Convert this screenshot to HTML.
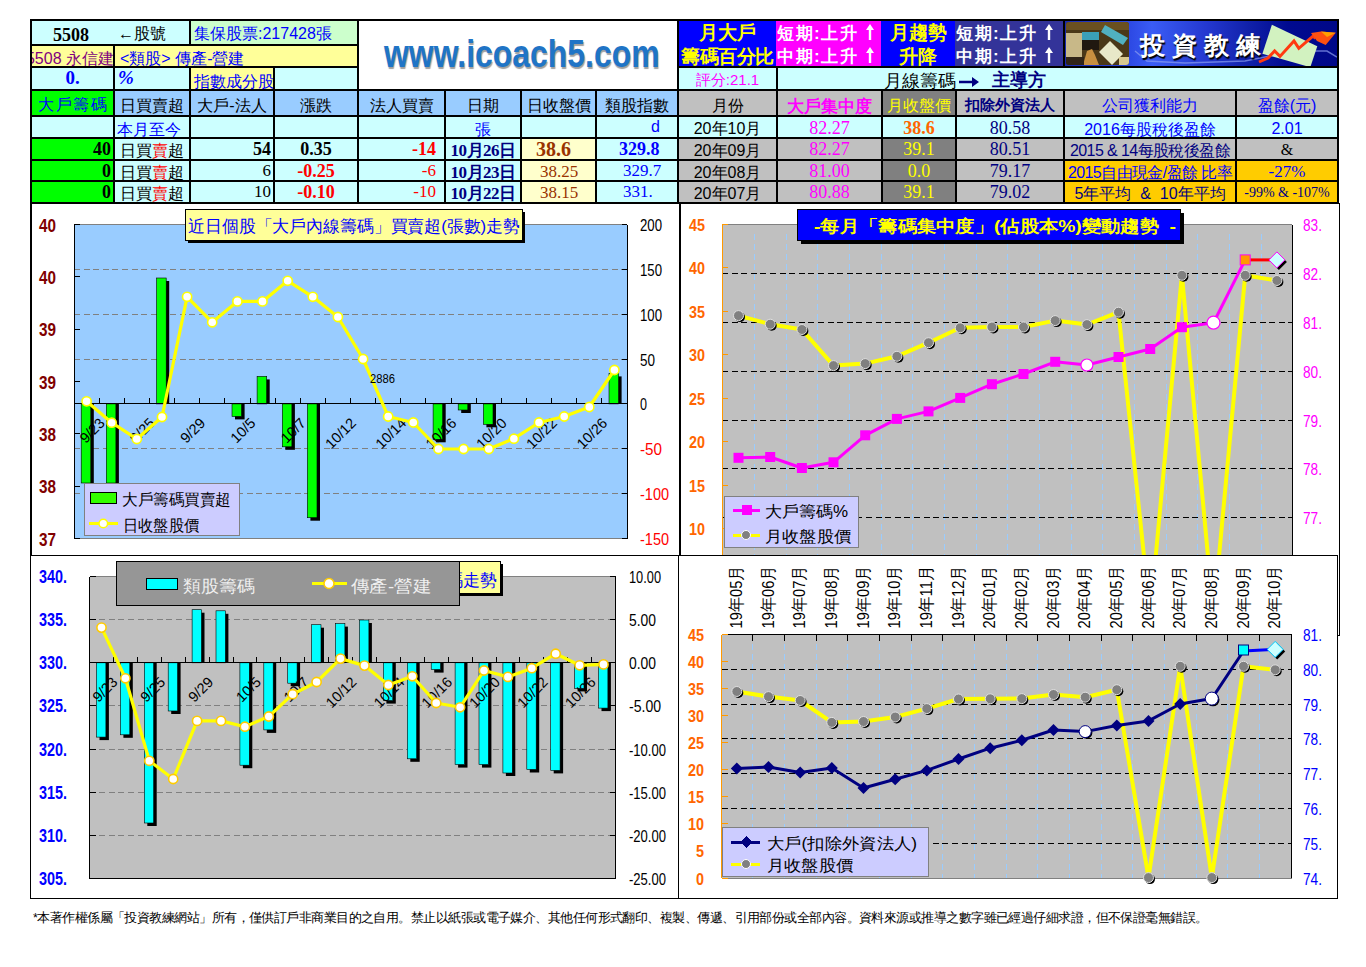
<!DOCTYPE html>
<html><head><meta charset="utf-8"><style>
html,body{margin:0;padding:0;background:#fff;width:1366px;height:967px;overflow:hidden;position:relative;font-family:"Liberation Sans",sans-serif}
</style></head><body>
<div style="position:absolute;left:32px;top:21px;width:157px;height:23px;background:#CCFFFF;"><span style="position:absolute;left:21px;top:3px;font:bold 19px 'Liberation Serif', serif;color:#000;transform:scaleX(0.95);transform-origin:0 0">5508</span><span style="position:absolute;left:86px;top:3px;font:16px 'Liberation Sans', sans-serif;color:#000">&larr;股號</span></div><div style="position:absolute;left:191px;top:21px;width:166px;height:23px;background:#CCFFCC;"><span style="position:absolute;left:3px;top:3px;font:16px 'Liberation Sans', sans-serif;color:#0000FF;white-space:nowrap">集保股票:217428張</span></div><div style="position:absolute;left:359px;top:21px;width:318px;height:68px;background:#FFFFFF;"></div><div style="position:absolute;left:679px;top:21px;width:97px;height:45px;background:#0000FF;overflow:hidden"><div style="position:absolute;left:-2px;right:-2px;top:0px;text-align:center;font:bold 18.5px/24px 'Liberation Sans', sans-serif;color:#FFFF00;white-space:nowrap">月大戶<br><span style="letter-spacing:-0.5px">籌碼百分比</span></div></div><div style="position:absolute;left:778px;top:21px;width:103px;height:45px;background:#FF00FF;overflow:hidden;margin-left:-2px;padding-left:2px"><div style="position:absolute;left:1px;top:1px;font:bold 17px/23px 'Liberation Sans', sans-serif;color:#FFFFFF;white-space:nowrap;letter-spacing:1.5px">短期:上升<svg width="8" height="16" style="vertical-align:-1px;margin-left:8px"><polygon points="4,0 8,6 5.2,6 5.2,16 2.8,16 2.8,6 0,6" fill="#fff"/></svg><br>中期:上升<svg width="8" height="16" style="vertical-align:-1px;margin-left:8px"><polygon points="4,0 8,6 5.2,6 5.2,16 2.8,16 2.8,6 0,6" fill="#fff"/></svg></div></div><div style="position:absolute;left:883px;top:21px;width:72px;height:45px;background:#0000FF;margin-left:-2px;padding-left:2px"><div style="position:absolute;left:0;right:0;top:0px;text-align:center;font:bold 18.5px/24px 'Liberation Sans', sans-serif;color:#FFFF00;white-space:nowrap">月趨勢<br>升降</div></div><div style="position:absolute;left:957px;top:21px;width:106px;height:45px;background:#333399;overflow:hidden;margin-left:-2px;padding-left:2px"><div style="position:absolute;left:1px;top:1px;font:bold 17px/23px 'Liberation Sans', sans-serif;color:#FFFFFF;white-space:nowrap;letter-spacing:1.5px">短期:上升<svg width="8" height="16" style="vertical-align:-1px;margin-left:8px"><polygon points="4,0 8,6 5.2,6 5.2,16 2.8,16 2.8,6 0,6" fill="#fff"/></svg><br>中期:上升<svg width="8" height="16" style="vertical-align:-1px;margin-left:8px"><polygon points="4,0 8,6 5.2,6 5.2,16 2.8,16 2.8,6 0,6" fill="#fff"/></svg></div></div><div style="position:absolute;left:1065px;top:21px;width:272px;height:45px;background:#1010A0;overflow:hidden"><div style="position:absolute;left:0;top:0;right:0;bottom:0;background:linear-gradient(90deg,#1a2ab0 0%,#2a45e0 22%,#3a5cf5 32%,#2438d0 52%,#1020a8 68%,#000a90 82%,#000888 100%)"></div><svg style="position:absolute;left:0;top:0" width="272" height="47"><polyline points="70,30 82,40 120,42 180,40 200,36 230,30 262,30 272,36" fill="none" stroke="#8a9cf0" stroke-width="1.5" opacity="0.7"/><defs><clipPath id="ph"><rect x="1" y="1" width="63" height="43" rx="3"/></clipPath></defs><g clip-path="url(#ph)"><rect x="1" y="1" width="63" height="43" fill="#4a3818"/><rect x="1" y="1" width="63" height="8" fill="#6a5020"/><rect x="1" y="12" width="16" height="24" fill="#c8b888"/><rect x="17" y="11" width="17" height="8" fill="#3aa0b8"/><rect x="17" y="19" width="17" height="10" fill="#201810"/><path d="M18,44 L22,30 L27,28 L30,34 L34,44 Z" fill="#c89040"/><polygon points="40,4 63,17 58,24 36,11" fill="#50b0c0"/><polygon points="45,20 58,33 47,44 34,31" fill="#e8e8c8"/><rect x="1" y="36" width="18" height="8" fill="#302418"/><rect x="54" y="36" width="10" height="8" fill="#d8c890"/></g><polygon points="206.9,3.7 252.3,25.3 245.3,46.2 197.4,32.7" fill="#d2f2c0"/><polyline points="194,41 203,37 209.6,30 215,35.4 229,20 233.8,27.3 248,15.2 250.6,17.2" fill="none" stroke="#ff3a10" stroke-width="3"/><polygon points="246,12 256,10.5 270.8,11.8 260.7,24 252,20" fill="#ff5010"/><polygon points="256,10.5 270.8,11.8 262,16" fill="#ffa000"/></svg><div style="position:absolute;left:75px;top:6px;font:bold 25px/36px 'Liberation Sans', sans-serif;color:#fff;letter-spacing:7px;white-space:nowrap;text-shadow:1px 2px 1px #000">投資教練</div></div><div style="position:absolute;left:32px;top:46px;width:81px;height:20px;background:#FFFF99;overflow:hidden"><span style="position:absolute;right:1px;top:3px;font:16px 'Liberation Sans', sans-serif;color:#800080;white-space:nowrap;margin-right:-2px">5508 永信建</span></div><div style="position:absolute;left:115px;top:46px;width:242px;height:20px;background:#FFFF99;"><span style="position:absolute;left:5px;top:3px;font:16px 'Liberation Sans', sans-serif;color:#0000FF;white-space:nowrap">&lt;類股&gt; 傳產-營建</span></div><div style="position:absolute;left:32px;top:68px;width:81px;height:21px;background:#CCFFFF;"><div style="position:absolute;left:0;right:0;top:-1px;text-align:center;font:bold 19px 'Liberation Serif', serif;color:#0000FF">0.</div></div><div style="position:absolute;left:115px;top:68px;width:74px;height:21px;background:#CCFFFF;"><span style="position:absolute;left:3px;top:-1px;font:italic bold 19px 'Liberation Serif', serif;color:#0000FF">%</span></div><div style="position:absolute;left:191px;top:68px;width:82px;height:21px;background:#FFFF99;"><span style="position:absolute;left:3px;top:4px;font:16px 'Liberation Sans', sans-serif;color:#0000FF;white-space:nowrap">指數成分股</span></div><div style="position:absolute;left:275px;top:68px;width:82px;height:21px;background:#CCFFFF;"></div><div style="position:absolute;left:679px;top:68px;width:97px;height:21px;background:#CCFFFF;"><div style="position:absolute;left:0;right:0;top:3px;text-align:center;font:15px 'Liberation Sans', sans-serif;color:#FF00FF;white-space:nowrap">評分:21.1</div></div><div style="position:absolute;left:778px;top:68px;width:559px;height:21px;background:#CCFFFF;"><span style="position:absolute;left:106px;top:1px;font:17.5px 'Liberation Sans', sans-serif;color:#000;white-space:nowrap">月線籌碼</span><span style="position:absolute;left:181px;top:5px"><svg width="20" height="10"><polygon points="20,5 13,0 13,3.8 0,3.8 0,6.2 13,6.2 13,10" fill="#000080"/></svg></span><span style="position:absolute;left:214px;top:0px;font:bold 18px 'Liberation Sans', sans-serif;color:#000080;white-space:nowrap">主導方</span></div><div style="position:absolute;left:32px;top:91px;width:81px;height:24px;background:#00FF00;"><div style="position:absolute;left:0;right:0;text-align:center;top:4px;font:16px 'Liberation Sans', sans-serif;color:#0000FF;white-space:nowrap;letter-spacing:1.5px;text-indent:1.5px">大戶籌碼</div></div><div style="position:absolute;left:115px;top:91px;width:74px;height:24px;background:#99CCFF;"><div style="position:absolute;left:0;right:0;text-align:center;top:5px;font:16px 'Liberation Sans', sans-serif;color:#000;white-space:nowrap;">日買賣超</div></div><div style="position:absolute;left:191px;top:91px;width:82px;height:24px;background:#99CCFF;"><div style="position:absolute;left:0;right:0;text-align:center;top:5px;font:16px 'Liberation Sans', sans-serif;color:#000;white-space:nowrap;">大戶-法人</div></div><div style="position:absolute;left:275px;top:91px;width:82px;height:24px;background:#99CCFF;"><div style="position:absolute;left:0;right:0;text-align:center;top:5px;font:16px 'Liberation Sans', sans-serif;color:#000;white-space:nowrap;">漲跌</div></div><div style="position:absolute;left:359px;top:91px;width:85px;height:24px;background:#99CCFF;"><div style="position:absolute;left:0;right:0;text-align:center;top:5px;font:16px 'Liberation Sans', sans-serif;color:#000;white-space:nowrap;">法人買賣</div></div><div style="position:absolute;left:446px;top:91px;width:74px;height:24px;background:#99CCFF;"><div style="position:absolute;left:0;right:0;text-align:center;top:5px;font:16px 'Liberation Sans', sans-serif;color:#000;white-space:nowrap;">日期</div></div><div style="position:absolute;left:522px;top:91px;width:73px;height:24px;background:#99CCFF;"><div style="position:absolute;left:0;right:0;text-align:center;top:5px;font:16px 'Liberation Sans', sans-serif;color:#000;white-space:nowrap;">日收盤價</div></div><div style="position:absolute;left:597px;top:91px;width:80px;height:24px;background:#99CCFF;"><div style="position:absolute;left:0;right:0;text-align:center;top:5px;font:16px 'Liberation Sans', sans-serif;color:#000;white-space:nowrap;">類股指數</div></div><div style="position:absolute;left:679px;top:91px;width:97px;height:24px;background:#C0C0C0;"><div style="position:absolute;left:0;right:0;text-align:center;top:5px;font:16px 'Liberation Sans', sans-serif;color:#000;white-space:nowrap;">月份</div></div><div style="position:absolute;left:778px;top:91px;width:103px;height:24px;background:#C0C0C0;"><div style="position:absolute;left:0;right:0;text-align:center;top:4px;font:bold 17px 'Liberation Sans', sans-serif;color:#FF00FF;white-space:nowrap;">大戶集中度</div></div><div style="position:absolute;left:883px;top:91px;width:72px;height:24px;background:#808080;"><div style="position:absolute;left:0;right:0;text-align:center;top:5px;font:16px 'Liberation Sans', sans-serif;color:#FFFF00;white-space:nowrap;">月收盤價</div></div><div style="position:absolute;left:957px;top:91px;width:106px;height:24px;background:#C0C0C0;"><div style="position:absolute;left:0;right:0;text-align:center;top:5px;font:bold 15px 'Liberation Sans', sans-serif;color:#000080;white-space:nowrap;">扣除外資法人</div></div><div style="position:absolute;left:1065px;top:91px;width:170px;height:24px;background:#C0C0C0;"><div style="position:absolute;left:0;right:0;text-align:center;top:5px;font:16px 'Liberation Sans', sans-serif;color:#0000FF;white-space:nowrap;">公司獲利能力</div></div><div style="position:absolute;left:1237px;top:91px;width:100px;height:24px;background:#C0C0C0;"><div style="position:absolute;left:0;right:0;text-align:center;top:5px;font:16px 'Liberation Sans', sans-serif;color:#0000FF;white-space:nowrap;">盈餘(元)</div></div><div style="position:absolute;left:32px;top:117px;width:81px;height:20px;background:#CCFFFF;"></div><div style="position:absolute;left:115px;top:117px;width:74px;height:20px;background:#CCFFFF;"><div style="position:absolute;left:2px;top:3px;font:16px 'Liberation Sans', sans-serif;color:#0000FF;white-space:nowrap;">本月至今</div></div><div style="position:absolute;left:191px;top:117px;width:82px;height:20px;background:#CCFFFF;"></div><div style="position:absolute;left:275px;top:117px;width:82px;height:20px;background:#CCFFFF;"></div><div style="position:absolute;left:359px;top:117px;width:85px;height:20px;background:#CCFFFF;"></div><div style="position:absolute;left:446px;top:117px;width:74px;height:20px;background:#CCFFFF;"><div style="position:absolute;left:0;right:0;text-align:center;top:3px;font:16px 'Liberation Sans', sans-serif;color:#0000FF;white-space:nowrap;">張</div></div><div style="position:absolute;left:522px;top:117px;width:73px;height:20px;background:#CCFFFF;"></div><div style="position:absolute;left:597px;top:117px;width:80px;height:20px;background:#CCFFFF;"><div style="position:absolute;right:17px;top:1px;font:16px 'Liberation Sans', sans-serif;color:#0000FF;white-space:nowrap;">d</div></div><div style="position:absolute;left:679px;top:117px;width:97px;height:20px;background:#CCFFFF;"><div style="position:absolute;left:0;right:0;text-align:center;top:2px;font:16px 'Liberation Sans', sans-serif;color:#000;white-space:nowrap;">20年10月</div></div><div style="position:absolute;left:778px;top:117px;width:103px;height:20px;background:#CCFFFF;"><div style="position:absolute;left:0;right:0;text-align:center;top:1px;font:18px 'Liberation Serif', serif;color:#FF00FF;white-space:nowrap;">82.27</div></div><div style="position:absolute;left:883px;top:117px;width:72px;height:20px;background:#CCFFFF;"><div style="position:absolute;left:0;right:0;text-align:center;top:1px;font:bold 18px 'Liberation Serif', serif;color:#FF6600;white-space:nowrap;">38.6</div></div><div style="position:absolute;left:957px;top:117px;width:106px;height:20px;background:#CCFFFF;"><div style="position:absolute;left:0;right:0;text-align:center;top:1px;font:18px 'Liberation Serif', serif;color:#000080;white-space:nowrap;">80.58</div></div><div style="position:absolute;left:1065px;top:117px;width:170px;height:20px;background:#CCFFFF;"><div style="position:absolute;left:0;right:0;text-align:center;top:3px;font:16px 'Liberation Sans', sans-serif;color:#0000FF;white-space:nowrap;">2016每股稅後盈餘</div></div><div style="position:absolute;left:1237px;top:117px;width:100px;height:20px;background:#CCFFFF;"><div style="position:absolute;left:0;right:0;text-align:center;top:3px;font:16px 'Liberation Sans', sans-serif;color:#0000FF;white-space:nowrap;">2.01</div></div><div style="position:absolute;left:32px;top:139px;width:81px;height:20px;background:#00FF00;"><div style="position:absolute;right:2px;top:0px;font:bold 18px 'Liberation Serif', serif;color:#000;white-space:nowrap;">40</div></div><div style="position:absolute;left:115px;top:139px;width:74px;height:20px;background:#CCFFFF;"><div style="position:absolute;left:0;right:0;text-align:center;top:2px;font:16px 'Liberation Sans', sans-serif;color:#000;white-space:nowrap;">日買<span style="color:#FF0000">賣</span>超</div></div><div style="position:absolute;left:191px;top:139px;width:82px;height:20px;background:#CCFFFF;"><div style="position:absolute;right:2px;top:0px;font:bold 18px 'Liberation Serif', serif;color:#000;white-space:nowrap;">54</div></div><div style="position:absolute;left:275px;top:139px;width:82px;height:20px;background:#CCFFFF;"><div style="position:absolute;left:0;right:0;text-align:center;top:0px;font:bold 18px 'Liberation Serif', serif;color:#000;white-space:nowrap;">0.35</div></div><div style="position:absolute;left:359px;top:139px;width:85px;height:20px;background:#CCFFFF;"><div style="position:absolute;right:8px;top:0px;font:bold 18px 'Liberation Serif', serif;color:#FF0000;white-space:nowrap;">-14</div></div><div style="position:absolute;left:446px;top:139px;width:74px;height:20px;background:#CCFFFF;"><div style="position:absolute;left:0;right:0;text-align:center;top:0px;font:bold 17px 'Liberation Serif', serif;color:#000080;white-space:nowrap;letter-spacing:-0.5px">10月26日</div></div><div style="position:absolute;left:522px;top:139px;width:73px;height:20px;background:#FFFFCC;"><div style="position:absolute;left:14px;top:-1px;font:bold 20px 'Liberation Serif', serif;color:#993300;white-space:nowrap;">38.6</div></div><div style="position:absolute;left:597px;top:139px;width:80px;height:20px;background:#CCFFFF;"><div style="position:absolute;left:22px;top:0px;font:bold 18px 'Liberation Serif', serif;color:#0000FF;white-space:nowrap;">329.8</div></div><div style="position:absolute;left:679px;top:139px;width:97px;height:20px;background:#C0C0C0;"><div style="position:absolute;left:0;right:0;text-align:center;top:2px;font:16px 'Liberation Sans', sans-serif;color:#000;white-space:nowrap;">20年09月</div></div><div style="position:absolute;left:778px;top:139px;width:103px;height:20px;background:#C0C0C0;"><div style="position:absolute;left:0;right:0;text-align:center;top:0px;font:18px 'Liberation Serif', serif;color:#FF00FF;white-space:nowrap;">82.27</div></div><div style="position:absolute;left:883px;top:139px;width:72px;height:20px;background:#808080;"><div style="position:absolute;left:0;right:0;text-align:center;top:0px;font:18px 'Liberation Serif', serif;color:#FFFF00;white-space:nowrap;">39.1</div></div><div style="position:absolute;left:957px;top:139px;width:106px;height:20px;background:#C0C0C0;"><div style="position:absolute;left:0;right:0;text-align:center;top:0px;font:18px 'Liberation Serif', serif;color:#000080;white-space:nowrap;">80.51</div></div><div style="position:absolute;left:32px;top:161px;width:81px;height:19px;background:#00FF00;"><div style="position:absolute;right:2px;top:0px;font:bold 18px 'Liberation Serif', serif;color:#000;white-space:nowrap;">0</div></div><div style="position:absolute;left:115px;top:161px;width:74px;height:19px;background:#CCFFFF;"><div style="position:absolute;left:0;right:0;text-align:center;top:2px;font:16px 'Liberation Sans', sans-serif;color:#000;white-space:nowrap;">日買<span style="color:#FF0000">賣</span>超</div></div><div style="position:absolute;left:191px;top:161px;width:82px;height:19px;background:#CCFFFF;"><div style="position:absolute;right:2px;top:0px;font:17px 'Liberation Serif', serif;color:#000;white-space:nowrap;">6</div></div><div style="position:absolute;left:275px;top:161px;width:82px;height:19px;background:#CCFFFF;"><div style="position:absolute;left:0;right:0;text-align:center;top:0px;font:bold 18px 'Liberation Serif', serif;color:#FF0000;white-space:nowrap;">-0.25</div></div><div style="position:absolute;left:359px;top:161px;width:85px;height:19px;background:#CCFFFF;"><div style="position:absolute;right:8px;top:0px;font:17px 'Liberation Serif', serif;color:#FF0000;white-space:nowrap;">-6</div></div><div style="position:absolute;left:446px;top:161px;width:74px;height:19px;background:#CCFFFF;"><div style="position:absolute;left:0;right:0;text-align:center;top:0px;font:bold 17px 'Liberation Serif', serif;color:#000080;white-space:nowrap;letter-spacing:-0.5px">10月23日</div></div><div style="position:absolute;left:522px;top:161px;width:73px;height:19px;background:#FFFFCC;"><div style="position:absolute;left:18px;top:1px;font:17px 'Liberation Serif', serif;color:#993300;white-space:nowrap;">38.25</div></div><div style="position:absolute;left:597px;top:161px;width:80px;height:19px;background:#CCFFFF;"><div style="position:absolute;left:26px;top:0px;font:17px 'Liberation Serif', serif;color:#0000FF;white-space:nowrap;">329.7</div></div><div style="position:absolute;left:679px;top:161px;width:97px;height:19px;background:#C0C0C0;"><div style="position:absolute;left:0;right:0;text-align:center;top:2px;font:16px 'Liberation Sans', sans-serif;color:#000;white-space:nowrap;">20年08月</div></div><div style="position:absolute;left:778px;top:161px;width:103px;height:19px;background:#C0C0C0;"><div style="position:absolute;left:0;right:0;text-align:center;top:0px;font:18px 'Liberation Serif', serif;color:#FF00FF;white-space:nowrap;">81.00</div></div><div style="position:absolute;left:883px;top:161px;width:72px;height:19px;background:#808080;"><div style="position:absolute;left:0;right:0;text-align:center;top:0px;font:18px 'Liberation Serif', serif;color:#FFFF00;white-space:nowrap;">0.0</div></div><div style="position:absolute;left:957px;top:161px;width:106px;height:19px;background:#C0C0C0;"><div style="position:absolute;left:0;right:0;text-align:center;top:0px;font:18px 'Liberation Serif', serif;color:#000080;white-space:nowrap;">79.17</div></div><div style="position:absolute;left:32px;top:182px;width:81px;height:20px;background:#00FF00;"><div style="position:absolute;right:2px;top:0px;font:bold 18px 'Liberation Serif', serif;color:#000;white-space:nowrap;">0</div></div><div style="position:absolute;left:115px;top:182px;width:74px;height:20px;background:#CCFFFF;"><div style="position:absolute;left:0;right:0;text-align:center;top:2px;font:16px 'Liberation Sans', sans-serif;color:#000;white-space:nowrap;">日買<span style="color:#FF0000">賣</span>超</div></div><div style="position:absolute;left:191px;top:182px;width:82px;height:20px;background:#CCFFFF;"><div style="position:absolute;right:2px;top:0px;font:17px 'Liberation Serif', serif;color:#000;white-space:nowrap;">10</div></div><div style="position:absolute;left:275px;top:182px;width:82px;height:20px;background:#CCFFFF;"><div style="position:absolute;left:0;right:0;text-align:center;top:0px;font:bold 18px 'Liberation Serif', serif;color:#FF0000;white-space:nowrap;">-0.10</div></div><div style="position:absolute;left:359px;top:182px;width:85px;height:20px;background:#CCFFFF;"><div style="position:absolute;right:8px;top:0px;font:17px 'Liberation Serif', serif;color:#FF0000;white-space:nowrap;">-10</div></div><div style="position:absolute;left:446px;top:182px;width:74px;height:20px;background:#CCFFFF;"><div style="position:absolute;left:0;right:0;text-align:center;top:0px;font:bold 17px 'Liberation Serif', serif;color:#000080;white-space:nowrap;letter-spacing:-0.5px">10月22日</div></div><div style="position:absolute;left:522px;top:182px;width:73px;height:20px;background:#FFFFCC;"><div style="position:absolute;left:18px;top:1px;font:17px 'Liberation Serif', serif;color:#993300;white-space:nowrap;">38.15</div></div><div style="position:absolute;left:597px;top:182px;width:80px;height:20px;background:#CCFFFF;"><div style="position:absolute;left:26px;top:0px;font:17px 'Liberation Serif', serif;color:#0000FF;white-space:nowrap;">331.</div></div><div style="position:absolute;left:679px;top:182px;width:97px;height:20px;background:#C0C0C0;"><div style="position:absolute;left:0;right:0;text-align:center;top:2px;font:16px 'Liberation Sans', sans-serif;color:#000;white-space:nowrap;">20年07月</div></div><div style="position:absolute;left:778px;top:182px;width:103px;height:20px;background:#C0C0C0;"><div style="position:absolute;left:0;right:0;text-align:center;top:0px;font:18px 'Liberation Serif', serif;color:#FF00FF;white-space:nowrap;">80.88</div></div><div style="position:absolute;left:883px;top:182px;width:72px;height:20px;background:#808080;"><div style="position:absolute;left:0;right:0;text-align:center;top:0px;font:18px 'Liberation Serif', serif;color:#FFFF00;white-space:nowrap;">39.1</div></div><div style="position:absolute;left:957px;top:182px;width:106px;height:20px;background:#C0C0C0;"><div style="position:absolute;left:0;right:0;text-align:center;top:0px;font:18px 'Liberation Serif', serif;color:#000080;white-space:nowrap;">79.02</div></div><div style="position:absolute;left:1065px;top:139px;width:170px;height:20px;background:#C0C0C0;"><div style="position:absolute;left:0;right:0;text-align:center;top:2px;font:16px 'Liberation Sans', sans-serif;color:#000080;white-space:nowrap;letter-spacing:-0.6px">2015 &amp; 14每股稅後盈餘</div></div><div style="position:absolute;left:1237px;top:139px;width:100px;height:20px;background:#C0C0C0;"><div style="position:absolute;left:0;right:0;text-align:center;top:2px;font:16px 'Liberation Serif', serif;color:#000;white-space:nowrap;">&amp;</div></div><div style="position:absolute;left:1065px;top:161px;width:170px;height:19px;background:#FFCC00;"><div style="position:absolute;left:0;right:0;text-align:center;top:2px;font:16px 'Liberation Sans', sans-serif;color:#0000FF;white-space:nowrap;letter-spacing:-0.6px">2015自由現金/盈餘 比率</div></div><div style="position:absolute;left:1237px;top:161px;width:100px;height:19px;background:#FFCC00;"><div style="position:absolute;left:0;right:0;text-align:center;top:1px;font:17px 'Liberation Serif', serif;color:#0000FF;white-space:nowrap;">-27%</div></div><div style="position:absolute;left:1065px;top:182px;width:170px;height:20px;background:#FFCC00;"><div style="position:absolute;left:0;right:0;text-align:center;top:2px;font:16px 'Liberation Sans', sans-serif;color:#000080;white-space:nowrap;">5年平均 &nbsp;&amp; &nbsp;10年平均</div></div><div style="position:absolute;left:1237px;top:182px;width:100px;height:20px;background:#FFCC00;"><div style="position:absolute;left:0;right:0;text-align:center;top:3px;font:14px 'Liberation Serif', serif;color:#000080;white-space:nowrap;">-99% &amp; -107%</div></div><div style="position:absolute;left:273px;top:115px;width:86px;height:2px;background:#000"></div><div style="position:absolute;left:520px;top:115px;width:77px;height:2px;background:#000"></div><div style="position:absolute;left:30px;top:159px;width:2px;height:23px;background:#000"></div><div style="position:absolute;left:881px;top:202px;width:76px;height:2px;background:#000"></div><div style="position:absolute;left:189px;top:115px;width:2px;height:24px;background:#000"></div><div style="position:absolute;left:776px;top:89px;width:563px;height:2px;background:#000"></div><div style="position:absolute;left:1337px;top:137px;width:2px;height:24px;background:#000"></div><div style="position:absolute;left:357px;top:44px;width:2px;height:24px;background:#000"></div><div style="position:absolute;left:189px;top:66px;width:2px;height:25px;background:#000"></div><div style="position:absolute;left:1337px;top:89px;width:2px;height:28px;background:#000"></div><div style="position:absolute;left:881px;top:159px;width:76px;height:2px;background:#000"></div><div style="position:absolute;left:677px;top:66px;width:101px;height:2px;background:#000"></div><div style="position:absolute;left:113px;top:159px;width:78px;height:2px;background:#000"></div><div style="position:absolute;left:1235px;top:202px;width:104px;height:2px;background:#000"></div><div style="position:absolute;left:113px;top:180px;width:2px;height:24px;background:#000"></div><div style="position:absolute;left:955px;top:137px;width:2px;height:24px;background:#000"></div><div style="position:absolute;left:30px;top:44px;width:2px;height:24px;background:#000"></div><div style="position:absolute;left:955px;top:89px;width:2px;height:28px;background:#000"></div><div style="position:absolute;left:776px;top:89px;width:107px;height:2px;background:#000"></div><div style="position:absolute;left:189px;top:137px;width:2px;height:24px;background:#000"></div><div style="position:absolute;left:357px;top:19px;width:322px;height:2px;background:#000"></div><div style="position:absolute;left:189px;top:19px;width:2px;height:27px;background:#000"></div><div style="position:absolute;left:357px;top:159px;width:89px;height:2px;background:#000"></div><div style="position:absolute;left:30px;top:159px;width:85px;height:2px;background:#000"></div><div style="position:absolute;left:677px;top:19px;width:2px;height:49px;background:#000"></div><div style="position:absolute;left:776px;top:180px;width:107px;height:2px;background:#000"></div><div style="position:absolute;left:273px;top:202px;width:86px;height:2px;background:#000"></div><div style="position:absolute;left:273px;top:115px;width:2px;height:24px;background:#000"></div><div style="position:absolute;left:881px;top:115px;width:76px;height:2px;background:#000"></div><div style="position:absolute;left:520px;top:202px;width:77px;height:2px;background:#000"></div><div style="position:absolute;left:1063px;top:19px;width:276px;height:2px;background:#000"></div><div style="position:absolute;left:881px;top:180px;width:2px;height:24px;background:#000"></div><div style="position:absolute;left:955px;top:202px;width:110px;height:2px;background:#000"></div><div style="position:absolute;left:520px;top:115px;width:2px;height:24px;background:#000"></div><div style="position:absolute;left:357px;top:180px;width:89px;height:2px;background:#000"></div><div style="position:absolute;left:1337px;top:159px;width:2px;height:23px;background:#000"></div><div style="position:absolute;left:776px;top:66px;width:563px;height:2px;background:#000"></div><div style="position:absolute;left:776px;top:115px;width:2px;height:24px;background:#000"></div><div style="position:absolute;left:189px;top:89px;width:86px;height:2px;background:#000"></div><div style="position:absolute;left:677px;top:89px;width:101px;height:2px;background:#000"></div><div style="position:absolute;left:776px;top:66px;width:2px;height:25px;background:#000"></div><div style="position:absolute;left:1063px;top:202px;width:174px;height:2px;background:#000"></div><div style="position:absolute;left:444px;top:159px;width:78px;height:2px;background:#000"></div><div style="position:absolute;left:1235px;top:115px;width:104px;height:2px;background:#000"></div><div style="position:absolute;left:955px;top:159px;width:2px;height:23px;background:#000"></div><div style="position:absolute;left:444px;top:180px;width:2px;height:24px;background:#000"></div><div style="position:absolute;left:677px;top:180px;width:101px;height:2px;background:#000"></div><div style="position:absolute;left:189px;top:159px;width:2px;height:23px;background:#000"></div><div style="position:absolute;left:30px;top:115px;width:85px;height:2px;background:#000"></div><div style="position:absolute;left:273px;top:180px;width:2px;height:24px;background:#000"></div><div style="position:absolute;left:1063px;top:19px;width:2px;height:49px;background:#000"></div><div style="position:absolute;left:189px;top:137px;width:86px;height:2px;background:#000"></div><div style="position:absolute;left:595px;top:115px;width:2px;height:24px;background:#000"></div><div style="position:absolute;left:113px;top:115px;width:2px;height:24px;background:#000"></div><div style="position:absolute;left:881px;top:19px;width:76px;height:2px;background:#000"></div><div style="position:absolute;left:113px;top:66px;width:2px;height:25px;background:#000"></div><div style="position:absolute;left:955px;top:115px;width:110px;height:2px;background:#000"></div><div style="position:absolute;left:595px;top:89px;width:84px;height:2px;background:#000"></div><div style="position:absolute;left:30px;top:44px;width:85px;height:2px;background:#000"></div><div style="position:absolute;left:444px;top:115px;width:78px;height:2px;background:#000"></div><div style="position:absolute;left:113px;top:202px;width:78px;height:2px;background:#000"></div><div style="position:absolute;left:1235px;top:115px;width:2px;height:24px;background:#000"></div><div style="position:absolute;left:189px;top:66px;width:86px;height:2px;background:#000"></div><div style="position:absolute;left:1063px;top:115px;width:174px;height:2px;background:#000"></div><div style="position:absolute;left:881px;top:115px;width:2px;height:24px;background:#000"></div><div style="position:absolute;left:357px;top:180px;width:2px;height:24px;background:#000"></div><div style="position:absolute;left:595px;top:180px;width:2px;height:24px;background:#000"></div><div style="position:absolute;left:357px;top:202px;width:89px;height:2px;background:#000"></div><div style="position:absolute;left:189px;top:44px;width:170px;height:2px;background:#000"></div><div style="position:absolute;left:30px;top:202px;width:85px;height:2px;background:#000"></div><div style="position:absolute;left:776px;top:159px;width:107px;height:2px;background:#000"></div><div style="position:absolute;left:595px;top:137px;width:84px;height:2px;background:#000"></div><div style="position:absolute;left:677px;top:180px;width:2px;height:24px;background:#000"></div><div style="position:absolute;left:357px;top:89px;width:322px;height:2px;background:#000"></div><div style="position:absolute;left:189px;top:89px;width:2px;height:28px;background:#000"></div><div style="position:absolute;left:444px;top:115px;width:2px;height:24px;background:#000"></div><div style="position:absolute;left:30px;top:180px;width:2px;height:24px;background:#000"></div><div style="position:absolute;left:1235px;top:137px;width:104px;height:2px;background:#000"></div><div style="position:absolute;left:273px;top:89px;width:86px;height:2px;background:#000"></div><div style="position:absolute;left:520px;top:89px;width:77px;height:2px;background:#000"></div><div style="position:absolute;left:881px;top:137px;width:2px;height:24px;background:#000"></div><div style="position:absolute;left:1235px;top:180px;width:2px;height:24px;background:#000"></div><div style="position:absolute;left:881px;top:89px;width:2px;height:28px;background:#000"></div><div style="position:absolute;left:189px;top:19px;width:170px;height:2px;background:#000"></div><div style="position:absolute;left:955px;top:19px;width:110px;height:2px;background:#000"></div><div style="position:absolute;left:113px;top:44px;width:246px;height:2px;background:#000"></div><div style="position:absolute;left:273px;top:66px;width:2px;height:25px;background:#000"></div><div style="position:absolute;left:444px;top:202px;width:78px;height:2px;background:#000"></div><div style="position:absolute;left:113px;top:115px;width:78px;height:2px;background:#000"></div><div style="position:absolute;left:677px;top:159px;width:101px;height:2px;background:#000"></div><div style="position:absolute;left:273px;top:137px;width:86px;height:2px;background:#000"></div><div style="position:absolute;left:520px;top:137px;width:77px;height:2px;background:#000"></div><div style="position:absolute;left:273px;top:137px;width:2px;height:24px;background:#000"></div><div style="position:absolute;left:357px;top:115px;width:89px;height:2px;background:#000"></div><div style="position:absolute;left:189px;top:180px;width:86px;height:2px;background:#000"></div><div style="position:absolute;left:273px;top:89px;width:2px;height:28px;background:#000"></div><div style="position:absolute;left:1063px;top:180px;width:2px;height:24px;background:#000"></div><div style="position:absolute;left:520px;top:137px;width:2px;height:24px;background:#000"></div><div style="position:absolute;left:520px;top:89px;width:2px;height:28px;background:#000"></div><div style="position:absolute;left:776px;top:137px;width:2px;height:24px;background:#000"></div><div style="position:absolute;left:357px;top:115px;width:2px;height:24px;background:#000"></div><div style="position:absolute;left:881px;top:159px;width:2px;height:23px;background:#000"></div><div style="position:absolute;left:776px;top:89px;width:2px;height:28px;background:#000"></div><div style="position:absolute;left:881px;top:89px;width:76px;height:2px;background:#000"></div><div style="position:absolute;left:357px;top:66px;width:2px;height:25px;background:#000"></div><div style="position:absolute;left:273px;top:66px;width:86px;height:2px;background:#000"></div><div style="position:absolute;left:1337px;top:180px;width:2px;height:24px;background:#000"></div><div style="position:absolute;left:1063px;top:66px;width:276px;height:2px;background:#000"></div><div style="position:absolute;left:677px;top:115px;width:2px;height:24px;background:#000"></div><div style="position:absolute;left:595px;top:159px;width:84px;height:2px;background:#000"></div><div style="position:absolute;left:1337px;top:19px;width:2px;height:49px;background:#000"></div><div style="position:absolute;left:677px;top:66px;width:2px;height:25px;background:#000"></div><div style="position:absolute;left:30px;top:115px;width:2px;height:24px;background:#000"></div><div style="position:absolute;left:30px;top:66px;width:2px;height:25px;background:#000"></div><div style="position:absolute;left:776px;top:19px;width:107px;height:2px;background:#000"></div><div style="position:absolute;left:1235px;top:89px;width:104px;height:2px;background:#000"></div><div style="position:absolute;left:776px;top:202px;width:107px;height:2px;background:#000"></div><div style="position:absolute;left:595px;top:137px;width:2px;height:24px;background:#000"></div><div style="position:absolute;left:595px;top:180px;width:84px;height:2px;background:#000"></div><div style="position:absolute;left:113px;top:137px;width:2px;height:24px;background:#000"></div><div style="position:absolute;left:273px;top:159px;width:2px;height:23px;background:#000"></div><div style="position:absolute;left:595px;top:89px;width:2px;height:28px;background:#000"></div><div style="position:absolute;left:881px;top:137px;width:76px;height:2px;background:#000"></div><div style="position:absolute;left:357px;top:19px;width:2px;height:27px;background:#000"></div><div style="position:absolute;left:113px;top:89px;width:2px;height:28px;background:#000"></div><div style="position:absolute;left:30px;top:89px;width:85px;height:2px;background:#000"></div><div style="position:absolute;left:520px;top:159px;width:2px;height:23px;background:#000"></div><div style="position:absolute;left:677px;top:137px;width:2px;height:24px;background:#000"></div><div style="position:absolute;left:1235px;top:180px;width:104px;height:2px;background:#000"></div><div style="position:absolute;left:776px;top:159px;width:2px;height:23px;background:#000"></div><div style="position:absolute;left:30px;top:19px;width:2px;height:27px;background:#000"></div><div style="position:absolute;left:1235px;top:137px;width:2px;height:24px;background:#000"></div><div style="position:absolute;left:1235px;top:89px;width:2px;height:28px;background:#000"></div><div style="position:absolute;left:677px;top:19px;width:101px;height:2px;background:#000"></div><div style="position:absolute;left:881px;top:66px;width:76px;height:2px;background:#000"></div><div style="position:absolute;left:1063px;top:115px;width:2px;height:24px;background:#000"></div><div style="position:absolute;left:955px;top:89px;width:110px;height:2px;background:#000"></div><div style="position:absolute;left:677px;top:202px;width:101px;height:2px;background:#000"></div><div style="position:absolute;left:30px;top:19px;width:161px;height:2px;background:#000"></div><div style="position:absolute;left:444px;top:89px;width:78px;height:2px;background:#000"></div><div style="position:absolute;left:30px;top:137px;width:85px;height:2px;background:#000"></div><div style="position:absolute;left:113px;top:66px;width:78px;height:2px;background:#000"></div><div style="position:absolute;left:273px;top:180px;width:86px;height:2px;background:#000"></div><div style="position:absolute;left:520px;top:180px;width:77px;height:2px;background:#000"></div><div style="position:absolute;left:189px;top:159px;width:86px;height:2px;background:#000"></div><div style="position:absolute;left:1063px;top:89px;width:174px;height:2px;background:#000"></div><div style="position:absolute;left:1337px;top:115px;width:2px;height:24px;background:#000"></div><div style="position:absolute;left:113px;top:159px;width:2px;height:23px;background:#000"></div><div style="position:absolute;left:595px;top:159px;width:2px;height:23px;background:#000"></div><div style="position:absolute;left:444px;top:137px;width:2px;height:24px;background:#000"></div><div style="position:absolute;left:776px;top:115px;width:107px;height:2px;background:#000"></div><div style="position:absolute;left:444px;top:89px;width:2px;height:28px;background:#000"></div><div style="position:absolute;left:677px;top:159px;width:2px;height:23px;background:#000"></div><div style="position:absolute;left:357px;top:19px;width:2px;height:72px;background:#000"></div><div style="position:absolute;left:1063px;top:137px;width:2px;height:24px;background:#000"></div><div style="position:absolute;left:955px;top:137px;width:110px;height:2px;background:#000"></div><div style="position:absolute;left:1063px;top:180px;width:174px;height:2px;background:#000"></div><div style="position:absolute;left:30px;top:66px;width:85px;height:2px;background:#000"></div><div style="position:absolute;left:444px;top:137px;width:78px;height:2px;background:#000"></div><div style="position:absolute;left:955px;top:115px;width:2px;height:24px;background:#000"></div><div style="position:absolute;left:677px;top:19px;width:2px;height:72px;background:#000"></div><div style="position:absolute;left:1235px;top:159px;width:2px;height:23px;background:#000"></div><div style="position:absolute;left:1063px;top:137px;width:174px;height:2px;background:#000"></div><div style="position:absolute;left:595px;top:202px;width:84px;height:2px;background:#000"></div><div style="position:absolute;left:113px;top:44px;width:2px;height:24px;background:#000"></div><div style="position:absolute;left:189px;top:115px;width:86px;height:2px;background:#000"></div><div style="position:absolute;left:677px;top:115px;width:101px;height:2px;background:#000"></div><div style="position:absolute;left:955px;top:66px;width:110px;height:2px;background:#000"></div><div style="position:absolute;left:113px;top:89px;width:78px;height:2px;background:#000"></div><div style="position:absolute;left:881px;top:180px;width:76px;height:2px;background:#000"></div><div style="position:absolute;left:444px;top:159px;width:2px;height:23px;background:#000"></div><div style="position:absolute;left:1235px;top:159px;width:104px;height:2px;background:#000"></div><div style="position:absolute;left:955px;top:180px;width:2px;height:24px;background:#000"></div><div style="position:absolute;left:113px;top:180px;width:78px;height:2px;background:#000"></div><div style="position:absolute;left:357px;top:137px;width:2px;height:24px;background:#000"></div><div style="position:absolute;left:1063px;top:159px;width:2px;height:23px;background:#000"></div><div style="position:absolute;left:357px;top:89px;width:2px;height:28px;background:#000"></div><div style="position:absolute;left:189px;top:180px;width:2px;height:24px;background:#000"></div><div style="position:absolute;left:357px;top:89px;width:89px;height:2px;background:#000"></div><div style="position:absolute;left:113px;top:66px;width:246px;height:2px;background:#000"></div><div style="position:absolute;left:113px;top:137px;width:78px;height:2px;background:#000"></div><div style="position:absolute;left:30px;top:44px;width:161px;height:2px;background:#000"></div><div style="position:absolute;left:677px;top:89px;width:2px;height:28px;background:#000"></div><div style="position:absolute;left:30px;top:137px;width:2px;height:24px;background:#000"></div><div style="position:absolute;left:30px;top:89px;width:2px;height:28px;background:#000"></div><div style="position:absolute;left:30px;top:180px;width:85px;height:2px;background:#000"></div><div style="position:absolute;left:776px;top:137px;width:107px;height:2px;background:#000"></div><div style="position:absolute;left:595px;top:115px;width:84px;height:2px;background:#000"></div><div style="position:absolute;left:273px;top:159px;width:86px;height:2px;background:#000"></div><div style="position:absolute;left:520px;top:159px;width:77px;height:2px;background:#000"></div><div style="position:absolute;left:955px;top:159px;width:110px;height:2px;background:#000"></div><div style="position:absolute;left:357px;top:137px;width:89px;height:2px;background:#000"></div><div style="position:absolute;left:189px;top:202px;width:86px;height:2px;background:#000"></div><div style="position:absolute;left:1063px;top:159px;width:174px;height:2px;background:#000"></div><div style="position:absolute;left:357px;top:159px;width:2px;height:23px;background:#000"></div><div style="position:absolute;left:955px;top:180px;width:110px;height:2px;background:#000"></div><div style="position:absolute;left:776px;top:66px;width:107px;height:2px;background:#000"></div><div style="position:absolute;left:444px;top:180px;width:78px;height:2px;background:#000"></div><div style="position:absolute;left:520px;top:180px;width:2px;height:24px;background:#000"></div><div style="position:absolute;left:1337px;top:66px;width:2px;height:25px;background:#000"></div><div style="position:absolute;left:677px;top:137px;width:101px;height:2px;background:#000"></div><div style="position:absolute;left:776px;top:180px;width:2px;height:24px;background:#000"></div><div style="position:absolute;left:1063px;top:89px;width:2px;height:28px;background:#000"></div><div style="position:absolute;left:384px;top:33px;font:bold 38px 'Liberation Sans', sans-serif;color:#1F74C6;white-space:nowrap;transform-origin:0 0;transform:scaleX(0.84);text-shadow:1px 2px 1px #a0a0a0">www.icoach5.com</div><svg width="1366" height="967" style="position:absolute;left:0;top:0" shape-rendering="crispEdges"><rect x="74.0" y="224.5" width="553.0" height="314.0" fill="#99CCFF" stroke="none" stroke-width="1"/><line x1="74.0" y1="269.4" x2="627.0" y2="269.4" stroke="#808080" stroke-width="1" stroke-dasharray="6 3.6"/><line x1="74.0" y1="314.2" x2="627.0" y2="314.2" stroke="#808080" stroke-width="1" stroke-dasharray="6 3.6"/><line x1="74.0" y1="359.1" x2="627.0" y2="359.1" stroke="#808080" stroke-width="1" stroke-dasharray="6 3.6"/><line x1="74.0" y1="448.8" x2="627.0" y2="448.8" stroke="#808080" stroke-width="1" stroke-dasharray="6 3.6"/><line x1="74.0" y1="493.6" x2="627.0" y2="493.6" stroke="#808080" stroke-width="1" stroke-dasharray="6 3.6"/><line x1="74.0" y1="224.5" x2="627.0" y2="224.5" stroke="#808080" stroke-width="1"/><line x1="74.0" y1="538.5" x2="627.0" y2="538.5" stroke="#808080" stroke-width="1"/><line x1="74.0" y1="224.5" x2="74.0" y2="538.5" stroke="#000" stroke-width="1"/><line x1="627.0" y1="224.5" x2="627.0" y2="538.5" stroke="#000" stroke-width="1"/><line x1="74.0" y1="224.5" x2="80.0" y2="224.5" stroke="#000" stroke-width="1"/><line x1="74.0" y1="276.8" x2="80.0" y2="276.8" stroke="#000" stroke-width="1"/><line x1="74.0" y1="329.2" x2="80.0" y2="329.2" stroke="#000" stroke-width="1"/><line x1="74.0" y1="381.5" x2="80.0" y2="381.5" stroke="#000" stroke-width="1"/><line x1="74.0" y1="433.8" x2="80.0" y2="433.8" stroke="#000" stroke-width="1"/><line x1="74.0" y1="486.2" x2="80.0" y2="486.2" stroke="#000" stroke-width="1"/><line x1="74.0" y1="538.5" x2="80.0" y2="538.5" stroke="#000" stroke-width="1"/><line x1="622.0" y1="224.5" x2="627.0" y2="224.5" stroke="#000" stroke-width="1"/><line x1="622.0" y1="269.4" x2="627.0" y2="269.4" stroke="#000" stroke-width="1"/><line x1="622.0" y1="314.2" x2="627.0" y2="314.2" stroke="#000" stroke-width="1"/><line x1="622.0" y1="359.1" x2="627.0" y2="359.1" stroke="#000" stroke-width="1"/><line x1="622.0" y1="403.9" x2="627.0" y2="403.9" stroke="#000" stroke-width="1"/><line x1="622.0" y1="448.8" x2="627.0" y2="448.8" stroke="#000" stroke-width="1"/><line x1="622.0" y1="493.6" x2="627.0" y2="493.6" stroke="#000" stroke-width="1"/><line x1="622.0" y1="538.5" x2="627.0" y2="538.5" stroke="#000" stroke-width="1"/><text x="56.0" y="231.5" font-family='"Liberation Sans", sans-serif' font-size="17.5" fill="#800000" text-anchor="end" font-weight="bold" textLength="17" lengthAdjust="spacingAndGlyphs">40</text><text x="56.0" y="283.8" font-family='"Liberation Sans", sans-serif' font-size="17.5" fill="#800000" text-anchor="end" font-weight="bold" textLength="17" lengthAdjust="spacingAndGlyphs">40</text><text x="56.0" y="336.2" font-family='"Liberation Sans", sans-serif' font-size="17.5" fill="#800000" text-anchor="end" font-weight="bold" textLength="17" lengthAdjust="spacingAndGlyphs">39</text><text x="56.0" y="388.5" font-family='"Liberation Sans", sans-serif' font-size="17.5" fill="#800000" text-anchor="end" font-weight="bold" textLength="17" lengthAdjust="spacingAndGlyphs">39</text><text x="56.0" y="440.8" font-family='"Liberation Sans", sans-serif' font-size="17.5" fill="#800000" text-anchor="end" font-weight="bold" textLength="17" lengthAdjust="spacingAndGlyphs">38</text><text x="56.0" y="493.2" font-family='"Liberation Sans", sans-serif' font-size="17.5" fill="#800000" text-anchor="end" font-weight="bold" textLength="17" lengthAdjust="spacingAndGlyphs">38</text><text x="56.0" y="545.5" font-family='"Liberation Sans", sans-serif' font-size="17.5" fill="#800000" text-anchor="end" font-weight="bold" textLength="17" lengthAdjust="spacingAndGlyphs">37</text><text x="640.0" y="231.0" font-family='"Liberation Sans", sans-serif' font-size="16.5" fill="#000" text-anchor="start" font-weight="normal" textLength="22" lengthAdjust="spacingAndGlyphs">200</text><text x="640.0" y="275.9" font-family='"Liberation Sans", sans-serif' font-size="16.5" fill="#000" text-anchor="start" font-weight="normal" textLength="22" lengthAdjust="spacingAndGlyphs">150</text><text x="640.0" y="320.7" font-family='"Liberation Sans", sans-serif' font-size="16.5" fill="#000" text-anchor="start" font-weight="normal" textLength="22" lengthAdjust="spacingAndGlyphs">100</text><text x="640.0" y="365.6" font-family='"Liberation Sans", sans-serif' font-size="16.5" fill="#000" text-anchor="start" font-weight="normal" textLength="15" lengthAdjust="spacingAndGlyphs">50</text><text x="640.0" y="410.4" font-family='"Liberation Sans", sans-serif' font-size="16.5" fill="#000" text-anchor="start" font-weight="normal" textLength="7" lengthAdjust="spacingAndGlyphs">0</text><text x="640.0" y="455.3" font-family='"Liberation Sans", sans-serif' font-size="16.5" fill="#FF0000" text-anchor="start" font-weight="normal" textLength="22" lengthAdjust="spacingAndGlyphs">-50</text><text x="640.0" y="500.1" font-family='"Liberation Sans", sans-serif' font-size="16.5" fill="#FF0000" text-anchor="start" font-weight="normal" textLength="29" lengthAdjust="spacingAndGlyphs">-100</text><text x="640.0" y="545.0" font-family='"Liberation Sans", sans-serif' font-size="16.5" fill="#FF0000" text-anchor="start" font-weight="normal" textLength="29" lengthAdjust="spacingAndGlyphs">-150</text><g shape-rendering="auto"><rect x="84.2" y="403.9" width="9.6" height="82.1" fill="#000" stroke="none" stroke-width="1"/><rect x="109.3" y="403.9" width="9.6" height="82.1" fill="#000" stroke="none" stroke-width="1"/><rect x="159.6" y="281.0" width="9.6" height="122.9" fill="#000" stroke="none" stroke-width="1"/><rect x="235.0" y="403.9" width="9.6" height="15.5" fill="#000" stroke="none" stroke-width="1"/><rect x="260.1" y="379.4" width="9.6" height="24.5" fill="#000" stroke="none" stroke-width="1"/><rect x="285.3" y="403.9" width="9.6" height="45.9" fill="#000" stroke="none" stroke-width="1"/><rect x="310.4" y="403.9" width="9.6" height="116.8" fill="#000" stroke="none" stroke-width="1"/><rect x="436.1" y="403.9" width="9.6" height="38.4" fill="#000" stroke="none" stroke-width="1"/><rect x="461.2" y="403.9" width="9.6" height="9.1" fill="#000" stroke="none" stroke-width="1"/><rect x="486.4" y="403.9" width="9.6" height="23.4" fill="#000" stroke="none" stroke-width="1"/><rect x="612.0" y="376.4" width="9.6" height="27.5" fill="#000" stroke="none" stroke-width="1"/><rect x="81.2" y="403.9" width="9.6" height="79.1" fill="#00FF00" stroke="#000" stroke-width="0.6"/><rect x="106.3" y="403.9" width="9.6" height="79.1" fill="#00FF00" stroke="#000" stroke-width="0.6"/><rect x="156.6" y="278.0" width="9.6" height="125.9" fill="#00FF00" stroke="#000" stroke-width="0.6"/><rect x="232.0" y="403.9" width="9.6" height="12.5" fill="#00FF00" stroke="#000" stroke-width="0.6"/><rect x="257.1" y="376.4" width="9.6" height="27.5" fill="#00FF00" stroke="#000" stroke-width="0.6"/><rect x="282.3" y="403.9" width="9.6" height="42.9" fill="#00FF00" stroke="#000" stroke-width="0.6"/><rect x="307.4" y="403.9" width="9.6" height="113.8" fill="#00FF00" stroke="#000" stroke-width="0.6"/><rect x="433.1" y="403.9" width="9.6" height="35.4" fill="#00FF00" stroke="#000" stroke-width="0.6"/><rect x="458.2" y="403.9" width="9.6" height="6.1" fill="#00FF00" stroke="#000" stroke-width="0.6"/><rect x="483.4" y="403.9" width="9.6" height="20.4" fill="#00FF00" stroke="#000" stroke-width="0.6"/><rect x="609.0" y="373.4" width="9.6" height="30.5" fill="#00FF00" stroke="#000" stroke-width="0.6"/></g><line x1="74.0" y1="403.9" x2="627.0" y2="403.9" stroke="#000" stroke-width="1"/><line x1="99.1" y1="397.9" x2="99.1" y2="403.9" stroke="#000" stroke-width="1"/><line x1="124.3" y1="397.9" x2="124.3" y2="403.9" stroke="#000" stroke-width="1"/><line x1="149.4" y1="397.9" x2="149.4" y2="403.9" stroke="#000" stroke-width="1"/><line x1="174.5" y1="397.9" x2="174.5" y2="403.9" stroke="#000" stroke-width="1"/><line x1="199.7" y1="397.9" x2="199.7" y2="403.9" stroke="#000" stroke-width="1"/><line x1="224.8" y1="397.9" x2="224.8" y2="403.9" stroke="#000" stroke-width="1"/><line x1="250.0" y1="397.9" x2="250.0" y2="403.9" stroke="#000" stroke-width="1"/><line x1="275.1" y1="397.9" x2="275.1" y2="403.9" stroke="#000" stroke-width="1"/><line x1="300.2" y1="397.9" x2="300.2" y2="403.9" stroke="#000" stroke-width="1"/><line x1="325.4" y1="397.9" x2="325.4" y2="403.9" stroke="#000" stroke-width="1"/><line x1="350.5" y1="397.9" x2="350.5" y2="403.9" stroke="#000" stroke-width="1"/><line x1="375.6" y1="397.9" x2="375.6" y2="403.9" stroke="#000" stroke-width="1"/><line x1="400.8" y1="397.9" x2="400.8" y2="403.9" stroke="#000" stroke-width="1"/><line x1="425.9" y1="397.9" x2="425.9" y2="403.9" stroke="#000" stroke-width="1"/><line x1="451.0" y1="397.9" x2="451.0" y2="403.9" stroke="#000" stroke-width="1"/><line x1="476.2" y1="397.9" x2="476.2" y2="403.9" stroke="#000" stroke-width="1"/><line x1="501.3" y1="397.9" x2="501.3" y2="403.9" stroke="#000" stroke-width="1"/><line x1="526.5" y1="397.9" x2="526.5" y2="403.9" stroke="#000" stroke-width="1"/><line x1="551.6" y1="397.9" x2="551.6" y2="403.9" stroke="#000" stroke-width="1"/><line x1="576.7" y1="397.9" x2="576.7" y2="403.9" stroke="#000" stroke-width="1"/><line x1="601.9" y1="397.9" x2="601.9" y2="403.9" stroke="#000" stroke-width="1"/><g shape-rendering="auto"><text x="0" y="0" font-family='"Liberation Sans", sans-serif' font-size="14.5" fill="#000" text-anchor="end" transform="translate(105.6,424.0) rotate(-45)">9/23</text><text x="0" y="0" font-family='"Liberation Sans", sans-serif' font-size="14.5" fill="#000" text-anchor="end" transform="translate(155.8,424.0) rotate(-45)">9/25</text><text x="0" y="0" font-family='"Liberation Sans", sans-serif' font-size="14.5" fill="#000" text-anchor="end" transform="translate(206.1,424.0) rotate(-45)">9/29</text><text x="0" y="0" font-family='"Liberation Sans", sans-serif' font-size="14.5" fill="#000" text-anchor="end" transform="translate(256.4,424.0) rotate(-45)">10/5</text><text x="0" y="0" font-family='"Liberation Sans", sans-serif' font-size="14.5" fill="#000" text-anchor="end" transform="translate(306.7,424.0) rotate(-45)">10/7</text><text x="0" y="0" font-family='"Liberation Sans", sans-serif' font-size="14.5" fill="#000" text-anchor="end" transform="translate(356.9,424.0) rotate(-45)">10/12</text><text x="0" y="0" font-family='"Liberation Sans", sans-serif' font-size="14.5" fill="#000" text-anchor="end" transform="translate(407.2,424.0) rotate(-45)">10/14</text><text x="0" y="0" font-family='"Liberation Sans", sans-serif' font-size="14.5" fill="#000" text-anchor="end" transform="translate(457.5,424.0) rotate(-45)">10/16</text><text x="0" y="0" font-family='"Liberation Sans", sans-serif' font-size="14.5" fill="#000" text-anchor="end" transform="translate(507.8,424.0) rotate(-45)">10/20</text><text x="0" y="0" font-family='"Liberation Sans", sans-serif' font-size="14.5" fill="#000" text-anchor="end" transform="translate(558.0,424.0) rotate(-45)">10/22</text><text x="0" y="0" font-family='"Liberation Sans", sans-serif' font-size="14.5" fill="#000" text-anchor="end" transform="translate(608.3,424.0) rotate(-45)">10/26</text><polyline points="86.6,401.3 111.7,422.7 136.8,439.0 162.0,417.0 187.1,296.8 212.2,322.3 237.4,301.4 262.5,301.4 287.7,280.8 312.8,296.8 337.9,317.0 363.1,359.0 388.2,416.5 413.3,422.5 438.5,449.0 463.6,449.0 488.8,449.0 513.9,438.7 539.0,422.5 564.2,416.5 589.3,407.0 614.4,370.0" fill="none" stroke="#FFFF00" stroke-width="3.2" stroke-linejoin="round"/><circle cx="86.6" cy="401.3" r="4.6" fill="#FFFFFF" stroke="#FFFF00" stroke-width="1.6"/><circle cx="111.7" cy="422.7" r="4.6" fill="#FFFFFF" stroke="#FFFF00" stroke-width="1.6"/><circle cx="136.8" cy="439.0" r="4.6" fill="#FFFFFF" stroke="#FFFF00" stroke-width="1.6"/><circle cx="162.0" cy="417.0" r="4.6" fill="#FFFFFF" stroke="#FFFF00" stroke-width="1.6"/><circle cx="187.1" cy="296.8" r="4.6" fill="#FFFFFF" stroke="#FFFF00" stroke-width="1.6"/><circle cx="212.2" cy="322.3" r="4.6" fill="#FFFFFF" stroke="#FFFF00" stroke-width="1.6"/><circle cx="237.4" cy="301.4" r="4.6" fill="#FFFFFF" stroke="#FFFF00" stroke-width="1.6"/><circle cx="262.5" cy="301.4" r="4.6" fill="#FFFFFF" stroke="#FFFF00" stroke-width="1.6"/><circle cx="287.7" cy="280.8" r="4.6" fill="#FFFFFF" stroke="#FFFF00" stroke-width="1.6"/><circle cx="312.8" cy="296.8" r="4.6" fill="#FFFFFF" stroke="#FFFF00" stroke-width="1.6"/><circle cx="337.9" cy="317.0" r="4.6" fill="#FFFFFF" stroke="#FFFF00" stroke-width="1.6"/><circle cx="363.1" cy="359.0" r="4.6" fill="#FFFFFF" stroke="#FFFF00" stroke-width="1.6"/><circle cx="388.2" cy="416.5" r="4.6" fill="#FFFFFF" stroke="#FFFF00" stroke-width="1.6"/><circle cx="413.3" cy="422.5" r="4.6" fill="#FFFFFF" stroke="#FFFF00" stroke-width="1.6"/><circle cx="438.5" cy="449.0" r="4.6" fill="#FFFFFF" stroke="#FFFF00" stroke-width="1.6"/><circle cx="463.6" cy="449.0" r="4.6" fill="#FFFFFF" stroke="#FFFF00" stroke-width="1.6"/><circle cx="488.8" cy="449.0" r="4.6" fill="#FFFFFF" stroke="#FFFF00" stroke-width="1.6"/><circle cx="513.9" cy="438.7" r="4.6" fill="#FFFFFF" stroke="#FFFF00" stroke-width="1.6"/><circle cx="539.0" cy="422.5" r="4.6" fill="#FFFFFF" stroke="#FFFF00" stroke-width="1.6"/><circle cx="564.2" cy="416.5" r="4.6" fill="#FFFFFF" stroke="#FFFF00" stroke-width="1.6"/><circle cx="589.3" cy="407.0" r="4.6" fill="#FFFFFF" stroke="#FFFF00" stroke-width="1.6"/><circle cx="614.4" cy="370.0" r="4.6" fill="#FFFFFF" stroke="#FFFF00" stroke-width="1.6"/></g><text x="370.0" y="383.0" font-family='"Liberation Sans", sans-serif' font-size="13" fill="#000" text-anchor="start" font-weight="normal" textLength="25" lengthAdjust="spacingAndGlyphs">2886</text><rect x="188.0" y="212.0" width="337.0" height="31.0" fill="#000" stroke="none" stroke-width="1"/><rect x="185.0" y="209.0" width="337.0" height="31.0" fill="#FFFF99" stroke="#000" stroke-width="1"/><text x="188" y="232" font-family='"Liberation Sans", sans-serif' font-size="17" fill="#0000FF" textLength="332" lengthAdjust="spacingAndGlyphs">近日個股「大戶內線籌碼」買賣超(張數)走勢</text><rect x="84.5" y="483.5" width="155.0" height="52.0" fill="#CCCCFF" stroke="#808080" stroke-width="1"/><rect x="90.0" y="492.5" width="26.5" height="11.0" fill="#33FF00" stroke="#000" stroke-width="1"/><text x="122" y="505" font-family='"Liberation Sans", sans-serif' font-size="16" fill="#000" textLength="109" lengthAdjust="spacingAndGlyphs">大戶籌碼買賣超</text><line x1="89.0" y1="523.5" x2="118.0" y2="523.5" stroke="#FFFF00" stroke-width="3"/><circle cx="103.3" cy="523.5" r="4.3" fill="#fff" stroke="#FFFF00" stroke-width="1.5" shape-rendering="auto"/><text x="123" y="531" font-family='"Liberation Sans", sans-serif' font-size="16" fill="#000" textLength="76" lengthAdjust="spacingAndGlyphs">日收盤股價</text><rect x="722.0" y="224.5" width="570.0" height="391.0" fill="#C0C0C0" stroke="none" stroke-width="1"/><line x1="754.5" y1="233.5" x2="754.5" y2="615.5" stroke="#99CCFF" stroke-width="1" stroke-dasharray="6 4"/><line x1="786.5" y1="233.5" x2="786.5" y2="615.5" stroke="#99CCFF" stroke-width="1" stroke-dasharray="6 4"/><line x1="817.5" y1="233.5" x2="817.5" y2="615.5" stroke="#99CCFF" stroke-width="1" stroke-dasharray="6 4"/><line x1="849.5" y1="233.5" x2="849.5" y2="615.5" stroke="#99CCFF" stroke-width="1" stroke-dasharray="6 4"/><line x1="881.5" y1="233.5" x2="881.5" y2="615.5" stroke="#99CCFF" stroke-width="1" stroke-dasharray="6 4"/><line x1="912.5" y1="233.5" x2="912.5" y2="615.5" stroke="#99CCFF" stroke-width="1" stroke-dasharray="6 4"/><line x1="944.5" y1="233.5" x2="944.5" y2="615.5" stroke="#99CCFF" stroke-width="1" stroke-dasharray="6 4"/><line x1="976.5" y1="233.5" x2="976.5" y2="615.5" stroke="#99CCFF" stroke-width="1" stroke-dasharray="6 4"/><line x1="1007.5" y1="233.5" x2="1007.5" y2="615.5" stroke="#99CCFF" stroke-width="1" stroke-dasharray="6 4"/><line x1="1039.5" y1="233.5" x2="1039.5" y2="615.5" stroke="#99CCFF" stroke-width="1" stroke-dasharray="6 4"/><line x1="1071.5" y1="233.5" x2="1071.5" y2="615.5" stroke="#99CCFF" stroke-width="1" stroke-dasharray="6 4"/><line x1="1102.5" y1="233.5" x2="1102.5" y2="615.5" stroke="#99CCFF" stroke-width="1" stroke-dasharray="6 4"/><line x1="1134.5" y1="233.5" x2="1134.5" y2="615.5" stroke="#99CCFF" stroke-width="1" stroke-dasharray="6 4"/><line x1="1166.5" y1="233.5" x2="1166.5" y2="615.5" stroke="#99CCFF" stroke-width="1" stroke-dasharray="6 4"/><line x1="1197.5" y1="233.5" x2="1197.5" y2="615.5" stroke="#99CCFF" stroke-width="1" stroke-dasharray="6 4"/><line x1="1229.5" y1="233.5" x2="1229.5" y2="615.5" stroke="#99CCFF" stroke-width="1" stroke-dasharray="6 4"/><line x1="1261.5" y1="233.5" x2="1261.5" y2="615.5" stroke="#99CCFF" stroke-width="1" stroke-dasharray="6 4"/><line x1="722.0" y1="273.4" x2="1292.0" y2="273.4" stroke="#000" stroke-width="1" stroke-dasharray="6 3.6"/><line x1="722.0" y1="322.2" x2="1292.0" y2="322.2" stroke="#000" stroke-width="1" stroke-dasharray="6 3.6"/><line x1="722.0" y1="371.1" x2="1292.0" y2="371.1" stroke="#000" stroke-width="1" stroke-dasharray="6 3.6"/><line x1="722.0" y1="420.0" x2="1292.0" y2="420.0" stroke="#000" stroke-width="1" stroke-dasharray="6 3.6"/><line x1="722.0" y1="468.9" x2="1292.0" y2="468.9" stroke="#000" stroke-width="1" stroke-dasharray="6 3.6"/><line x1="722.0" y1="517.8" x2="1292.0" y2="517.8" stroke="#000" stroke-width="1" stroke-dasharray="6 3.6"/><line x1="722.0" y1="566.6" x2="1292.0" y2="566.6" stroke="#000" stroke-width="1" stroke-dasharray="6 3.6"/><line x1="722.0" y1="224.5" x2="1292.0" y2="224.5" stroke="#808080" stroke-width="1"/><line x1="1292.0" y1="224.5" x2="1292.0" y2="615.5" stroke="#000" stroke-width="1"/><line x1="722.0" y1="224.5" x2="722.0" y2="615.5" stroke="#FF9900" stroke-width="1"/><line x1="722.0" y1="224.5" x2="728.0" y2="224.5" stroke="#FF9900" stroke-width="1"/><line x1="722.0" y1="267.9" x2="728.0" y2="267.9" stroke="#FF9900" stroke-width="1"/><line x1="722.0" y1="311.4" x2="728.0" y2="311.4" stroke="#FF9900" stroke-width="1"/><line x1="722.0" y1="354.8" x2="728.0" y2="354.8" stroke="#FF9900" stroke-width="1"/><line x1="722.0" y1="398.3" x2="728.0" y2="398.3" stroke="#FF9900" stroke-width="1"/><line x1="722.0" y1="441.7" x2="728.0" y2="441.7" stroke="#FF9900" stroke-width="1"/><line x1="722.0" y1="485.1" x2="728.0" y2="485.1" stroke="#FF9900" stroke-width="1"/><line x1="722.0" y1="528.6" x2="728.0" y2="528.6" stroke="#FF9900" stroke-width="1"/><line x1="722.0" y1="572.0" x2="728.0" y2="572.0" stroke="#FF9900" stroke-width="1"/><line x1="722.0" y1="615.5" x2="728.0" y2="615.5" stroke="#FF9900" stroke-width="1"/><text x="705.0" y="231.0" font-family='"Liberation Sans", sans-serif' font-size="17" fill="#FF6600" text-anchor="end" font-weight="bold" textLength="16" lengthAdjust="spacingAndGlyphs">45</text><text x="705.0" y="274.4" font-family='"Liberation Sans", sans-serif' font-size="17" fill="#FF6600" text-anchor="end" font-weight="bold" textLength="16" lengthAdjust="spacingAndGlyphs">40</text><text x="705.0" y="317.9" font-family='"Liberation Sans", sans-serif' font-size="17" fill="#FF6600" text-anchor="end" font-weight="bold" textLength="16" lengthAdjust="spacingAndGlyphs">35</text><text x="705.0" y="361.3" font-family='"Liberation Sans", sans-serif' font-size="17" fill="#FF6600" text-anchor="end" font-weight="bold" textLength="16" lengthAdjust="spacingAndGlyphs">30</text><text x="705.0" y="404.8" font-family='"Liberation Sans", sans-serif' font-size="17" fill="#FF6600" text-anchor="end" font-weight="bold" textLength="16" lengthAdjust="spacingAndGlyphs">25</text><text x="705.0" y="448.2" font-family='"Liberation Sans", sans-serif' font-size="17" fill="#FF6600" text-anchor="end" font-weight="bold" textLength="16" lengthAdjust="spacingAndGlyphs">20</text><text x="705.0" y="491.6" font-family='"Liberation Sans", sans-serif' font-size="17" fill="#FF6600" text-anchor="end" font-weight="bold" textLength="16" lengthAdjust="spacingAndGlyphs">15</text><text x="705.0" y="535.1" font-family='"Liberation Sans", sans-serif' font-size="17" fill="#FF6600" text-anchor="end" font-weight="bold" textLength="16" lengthAdjust="spacingAndGlyphs">10</text><text x="1303.0" y="231.0" font-family='"Liberation Sans", sans-serif' font-size="17" fill="#FF00FF" text-anchor="start" font-weight="normal" textLength="19" lengthAdjust="spacingAndGlyphs">83.</text><text x="1303.0" y="279.9" font-family='"Liberation Sans", sans-serif' font-size="17" fill="#FF00FF" text-anchor="start" font-weight="normal" textLength="19" lengthAdjust="spacingAndGlyphs">82.</text><text x="1303.0" y="328.8" font-family='"Liberation Sans", sans-serif' font-size="17" fill="#FF00FF" text-anchor="start" font-weight="normal" textLength="19" lengthAdjust="spacingAndGlyphs">81.</text><text x="1303.0" y="377.6" font-family='"Liberation Sans", sans-serif' font-size="17" fill="#FF00FF" text-anchor="start" font-weight="normal" textLength="19" lengthAdjust="spacingAndGlyphs">80.</text><text x="1303.0" y="426.5" font-family='"Liberation Sans", sans-serif' font-size="17" fill="#FF00FF" text-anchor="start" font-weight="normal" textLength="19" lengthAdjust="spacingAndGlyphs">79.</text><text x="1303.0" y="475.4" font-family='"Liberation Sans", sans-serif' font-size="17" fill="#FF00FF" text-anchor="start" font-weight="normal" textLength="19" lengthAdjust="spacingAndGlyphs">78.</text><text x="1303.0" y="524.2" font-family='"Liberation Sans", sans-serif' font-size="17" fill="#FF00FF" text-anchor="start" font-weight="normal" textLength="19" lengthAdjust="spacingAndGlyphs">77.</text><g shape-rendering="auto"><polyline points="738.5,315.6 770.2,324.2 801.9,329.5 833.5,365.6 865.2,363.6 896.9,356.3 928.5,342.7 960.2,327.8 991.9,327.0 1023.5,327.0 1055.2,320.6 1086.9,324.6 1118.5,312.2 1150.2,615.5 1181.9,275.3 1213.5,615.5 1245.2,275.3 1276.9,280.5" fill="none" stroke="#FFFF00" stroke-width="4" stroke-linejoin="round"/><circle cx="740.0" cy="317.1" r="5" fill="#000"/><circle cx="738.5" cy="315.6" r="5" fill="#808080" stroke="#E0E0E0" stroke-width="1"/><circle cx="771.7" cy="325.7" r="5" fill="#000"/><circle cx="770.2" cy="324.2" r="5" fill="#808080" stroke="#E0E0E0" stroke-width="1"/><circle cx="803.4" cy="331.0" r="5" fill="#000"/><circle cx="801.9" cy="329.5" r="5" fill="#808080" stroke="#E0E0E0" stroke-width="1"/><circle cx="835.0" cy="367.1" r="5" fill="#000"/><circle cx="833.5" cy="365.6" r="5" fill="#808080" stroke="#E0E0E0" stroke-width="1"/><circle cx="866.7" cy="365.1" r="5" fill="#000"/><circle cx="865.2" cy="363.6" r="5" fill="#808080" stroke="#E0E0E0" stroke-width="1"/><circle cx="898.4" cy="357.8" r="5" fill="#000"/><circle cx="896.9" cy="356.3" r="5" fill="#808080" stroke="#E0E0E0" stroke-width="1"/><circle cx="930.0" cy="344.2" r="5" fill="#000"/><circle cx="928.5" cy="342.7" r="5" fill="#808080" stroke="#E0E0E0" stroke-width="1"/><circle cx="961.7" cy="329.3" r="5" fill="#000"/><circle cx="960.2" cy="327.8" r="5" fill="#808080" stroke="#E0E0E0" stroke-width="1"/><circle cx="993.4" cy="328.5" r="5" fill="#000"/><circle cx="991.9" cy="327.0" r="5" fill="#808080" stroke="#E0E0E0" stroke-width="1"/><circle cx="1025.0" cy="328.5" r="5" fill="#000"/><circle cx="1023.5" cy="327.0" r="5" fill="#808080" stroke="#E0E0E0" stroke-width="1"/><circle cx="1056.7" cy="322.1" r="5" fill="#000"/><circle cx="1055.2" cy="320.6" r="5" fill="#808080" stroke="#E0E0E0" stroke-width="1"/><circle cx="1088.4" cy="326.1" r="5" fill="#000"/><circle cx="1086.9" cy="324.6" r="5" fill="#808080" stroke="#E0E0E0" stroke-width="1"/><circle cx="1120.0" cy="313.7" r="5" fill="#000"/><circle cx="1118.5" cy="312.2" r="5" fill="#808080" stroke="#E0E0E0" stroke-width="1"/><circle cx="1183.4" cy="276.8" r="5" fill="#000"/><circle cx="1181.9" cy="275.3" r="5" fill="#808080" stroke="#E0E0E0" stroke-width="1"/><circle cx="1246.7" cy="276.8" r="5" fill="#000"/><circle cx="1245.2" cy="275.3" r="5" fill="#808080" stroke="#E0E0E0" stroke-width="1"/><circle cx="1278.4" cy="282.0" r="5" fill="#000"/><circle cx="1276.9" cy="280.5" r="5" fill="#808080" stroke="#E0E0E0" stroke-width="1"/><polyline points="738.5,457.8 770.2,457.0 801.9,468.0 833.5,462.3 865.2,435.3 896.9,418.9 928.5,411.4 960.2,397.9 991.9,384.2 1023.5,374.0 1055.2,361.8 1086.9,365.0 1118.5,357.0 1150.2,349.0 1181.9,327.2 1213.5,322.7 1245.2,259.9" fill="none" stroke="#FF00FF" stroke-width="3" stroke-linejoin="round"/><line x1="1245.2" y1="259.9" x2="1276.9" y2="259.9" stroke="#FF0000" stroke-width="3"/><rect x="733.5" y="452.8" width="10.0" height="10.0" fill="#FF00FF" stroke="none" stroke-width="1"/><rect x="765.2" y="452.0" width="10.0" height="10.0" fill="#FF00FF" stroke="none" stroke-width="1"/><rect x="796.9" y="463.0" width="10.0" height="10.0" fill="#FF00FF" stroke="none" stroke-width="1"/><rect x="828.5" y="457.3" width="10.0" height="10.0" fill="#FF00FF" stroke="none" stroke-width="1"/><rect x="860.2" y="430.3" width="10.0" height="10.0" fill="#FF00FF" stroke="none" stroke-width="1"/><rect x="891.9" y="413.9" width="10.0" height="10.0" fill="#FF00FF" stroke="none" stroke-width="1"/><rect x="923.5" y="406.4" width="10.0" height="10.0" fill="#FF00FF" stroke="none" stroke-width="1"/><rect x="955.2" y="392.9" width="10.0" height="10.0" fill="#FF00FF" stroke="none" stroke-width="1"/><rect x="986.9" y="379.2" width="10.0" height="10.0" fill="#FF00FF" stroke="none" stroke-width="1"/><rect x="1018.5" y="369.0" width="10.0" height="10.0" fill="#FF00FF" stroke="none" stroke-width="1"/><rect x="1050.2" y="356.8" width="10.0" height="10.0" fill="#FF00FF" stroke="none" stroke-width="1"/><circle cx="1086.9" cy="365.0" r="6" fill="#fff" stroke="#FF00FF" stroke-width="1.2"/><rect x="1113.5" y="352.0" width="10.0" height="10.0" fill="#FF00FF" stroke="none" stroke-width="1"/><rect x="1145.2" y="344.0" width="10.0" height="10.0" fill="#FF00FF" stroke="none" stroke-width="1"/><rect x="1176.9" y="322.2" width="10.0" height="10.0" fill="#FF00FF" stroke="none" stroke-width="1"/><circle cx="1213.5" cy="322.7" r="6.5" fill="#fff" stroke="#FF00FF" stroke-width="1.2"/><rect x="1240.2" y="254.9" width="10.0" height="10.0" fill="#FF9900" stroke="#FF00FF" stroke-width="1"/><polygon points="1278.9,253.9 1286.9,261.9 1278.9,269.9 1270.9,261.9" fill="#000"/><polygon points="1276.9,251.9 1284.9,259.9 1276.9,267.9 1268.9,259.9" fill="#CCFFFF" stroke="#FF00FF" stroke-width="1"/></g><rect x="800.5" y="212.5" width="383.0" height="31.0" fill="#000" stroke="none" stroke-width="1"/><rect x="797.5" y="209.5" width="383.0" height="31.0" fill="#0000FF" stroke="#000" stroke-width="1"/><text x="814" y="232" font-family='"Liberation Sans", sans-serif' font-size="17" font-weight="bold" fill="#FFFF00" textLength="362" lengthAdjust="spacingAndGlyphs">-每月「籌碼集中度」(佔股本%)變動趨勢 &#160;-</text><rect x="724.5" y="496.5" width="134.0" height="51.0" fill="#CCCCFF" stroke="#808080" stroke-width="1"/><line x1="733.0" y1="510.0" x2="760.0" y2="510.0" stroke="#FF00FF" stroke-width="3"/><rect x="742.0" y="505.0" width="10.0" height="10.0" fill="#FF00FF" stroke="none" stroke-width="1"/><text x="765" y="517" font-family='"Liberation Sans", sans-serif' font-size="16" fill="#000" textLength="83" lengthAdjust="spacingAndGlyphs">大戶籌碼%</text><line x1="733.0" y1="535.0" x2="760.0" y2="535.0" stroke="#FFFF00" stroke-width="3"/><circle cx="746" cy="535" r="4.5" fill="#808080" stroke="#fff" stroke-width="1" shape-rendering="auto"/><text x="765" y="542" font-family='"Liberation Sans", sans-serif' font-size="16" fill="#000" textLength="86" lengthAdjust="spacingAndGlyphs">月收盤股價</text><rect x="678.5" y="555.5" width="659.0" height="342.5" fill="#FFFFFF" stroke="#000" stroke-width="1"/><rect x="30.5" y="555.5" width="648.0" height="342.5" fill="#FFFFFF" stroke="#000" stroke-width="1"/><line x1="1339.5" y1="203.0" x2="1339.5" y2="635.5" stroke="#000" stroke-width="1"/><line x1="1338.0" y1="635.5" x2="1340.0" y2="635.5" stroke="#000" stroke-width="1"/><rect x="30.0" y="203.0" width="2.0" height="352.0" fill="#000" stroke="none" stroke-width="1"/><rect x="679.0" y="203.0" width="2.0" height="352.0" fill="#000" stroke="none" stroke-width="1"/><rect x="89.5" y="576.5" width="526.0" height="302.0" fill="#C0C0C0" stroke="none" stroke-width="1"/><line x1="89.5" y1="619.6" x2="615.5" y2="619.6" stroke="#808080" stroke-width="1" stroke-dasharray="6 3.6"/><line x1="89.5" y1="705.9" x2="615.5" y2="705.9" stroke="#808080" stroke-width="1" stroke-dasharray="6 3.6"/><line x1="89.5" y1="749.1" x2="615.5" y2="749.1" stroke="#808080" stroke-width="1" stroke-dasharray="6 3.6"/><line x1="89.5" y1="792.2" x2="615.5" y2="792.2" stroke="#808080" stroke-width="1" stroke-dasharray="6 3.6"/><line x1="89.5" y1="835.4" x2="615.5" y2="835.4" stroke="#808080" stroke-width="1" stroke-dasharray="6 3.6"/><line x1="89.5" y1="576.5" x2="615.5" y2="576.5" stroke="#808080" stroke-width="1"/><line x1="89.5" y1="878.5" x2="615.5" y2="878.5" stroke="#000" stroke-width="1"/><line x1="89.5" y1="576.5" x2="89.5" y2="878.5" stroke="#000" stroke-width="1"/><line x1="615.5" y1="576.5" x2="615.5" y2="878.5" stroke="#000" stroke-width="1"/><line x1="89.5" y1="576.5" x2="95.5" y2="576.5" stroke="#000" stroke-width="1"/><line x1="609.5" y1="576.5" x2="615.5" y2="576.5" stroke="#000" stroke-width="1"/><line x1="89.5" y1="619.6" x2="95.5" y2="619.6" stroke="#000" stroke-width="1"/><line x1="609.5" y1="619.6" x2="615.5" y2="619.6" stroke="#000" stroke-width="1"/><line x1="89.5" y1="662.8" x2="95.5" y2="662.8" stroke="#000" stroke-width="1"/><line x1="609.5" y1="662.8" x2="615.5" y2="662.8" stroke="#000" stroke-width="1"/><line x1="89.5" y1="705.9" x2="95.5" y2="705.9" stroke="#000" stroke-width="1"/><line x1="609.5" y1="705.9" x2="615.5" y2="705.9" stroke="#000" stroke-width="1"/><line x1="89.5" y1="749.1" x2="95.5" y2="749.1" stroke="#000" stroke-width="1"/><line x1="609.5" y1="749.1" x2="615.5" y2="749.1" stroke="#000" stroke-width="1"/><line x1="89.5" y1="792.2" x2="95.5" y2="792.2" stroke="#000" stroke-width="1"/><line x1="609.5" y1="792.2" x2="615.5" y2="792.2" stroke="#000" stroke-width="1"/><line x1="89.5" y1="835.4" x2="95.5" y2="835.4" stroke="#000" stroke-width="1"/><line x1="609.5" y1="835.4" x2="615.5" y2="835.4" stroke="#000" stroke-width="1"/><line x1="89.5" y1="878.5" x2="95.5" y2="878.5" stroke="#000" stroke-width="1"/><line x1="609.5" y1="878.5" x2="615.5" y2="878.5" stroke="#000" stroke-width="1"/><text x="39.0" y="583.0" font-family='"Liberation Sans", sans-serif' font-size="17.5" fill="#0000FF" text-anchor="start" font-weight="bold" textLength="28" lengthAdjust="spacingAndGlyphs">340.</text><text x="39.0" y="626.1" font-family='"Liberation Sans", sans-serif' font-size="17.5" fill="#0000FF" text-anchor="start" font-weight="bold" textLength="28" lengthAdjust="spacingAndGlyphs">335.</text><text x="39.0" y="669.3" font-family='"Liberation Sans", sans-serif' font-size="17.5" fill="#0000FF" text-anchor="start" font-weight="bold" textLength="28" lengthAdjust="spacingAndGlyphs">330.</text><text x="39.0" y="712.4" font-family='"Liberation Sans", sans-serif' font-size="17.5" fill="#0000FF" text-anchor="start" font-weight="bold" textLength="28" lengthAdjust="spacingAndGlyphs">325.</text><text x="39.0" y="755.6" font-family='"Liberation Sans", sans-serif' font-size="17.5" fill="#0000FF" text-anchor="start" font-weight="bold" textLength="28" lengthAdjust="spacingAndGlyphs">320.</text><text x="39.0" y="798.7" font-family='"Liberation Sans", sans-serif' font-size="17.5" fill="#0000FF" text-anchor="start" font-weight="bold" textLength="28" lengthAdjust="spacingAndGlyphs">315.</text><text x="39.0" y="841.9" font-family='"Liberation Sans", sans-serif' font-size="17.5" fill="#0000FF" text-anchor="start" font-weight="bold" textLength="28" lengthAdjust="spacingAndGlyphs">310.</text><text x="39.0" y="885.0" font-family='"Liberation Sans", sans-serif' font-size="17.5" fill="#0000FF" text-anchor="start" font-weight="bold" textLength="28" lengthAdjust="spacingAndGlyphs">305.</text><text x="629.0" y="583.0" font-family='"Liberation Sans", sans-serif' font-size="16.5" fill="#000" text-anchor="start" font-weight="normal" textLength="32" lengthAdjust="spacingAndGlyphs">10.00</text><text x="629.0" y="626.1" font-family='"Liberation Sans", sans-serif' font-size="16.5" fill="#000" text-anchor="start" font-weight="normal" textLength="27" lengthAdjust="spacingAndGlyphs">5.00</text><text x="629.0" y="669.3" font-family='"Liberation Sans", sans-serif' font-size="16.5" fill="#000" text-anchor="start" font-weight="normal" textLength="27" lengthAdjust="spacingAndGlyphs">0.00</text><text x="629.0" y="712.4" font-family='"Liberation Sans", sans-serif' font-size="16.5" fill="#000" text-anchor="start" font-weight="normal" textLength="32" lengthAdjust="spacingAndGlyphs">-5.00</text><text x="629.0" y="755.6" font-family='"Liberation Sans", sans-serif' font-size="16.5" fill="#000" text-anchor="start" font-weight="normal" textLength="37" lengthAdjust="spacingAndGlyphs">-10.00</text><text x="629.0" y="798.7" font-family='"Liberation Sans", sans-serif' font-size="16.5" fill="#000" text-anchor="start" font-weight="normal" textLength="37" lengthAdjust="spacingAndGlyphs">-15.00</text><text x="629.0" y="841.9" font-family='"Liberation Sans", sans-serif' font-size="16.5" fill="#000" text-anchor="start" font-weight="normal" textLength="37" lengthAdjust="spacingAndGlyphs">-20.00</text><text x="629.0" y="885.0" font-family='"Liberation Sans", sans-serif' font-size="16.5" fill="#000" text-anchor="start" font-weight="normal" textLength="37" lengthAdjust="spacingAndGlyphs">-25.00</text><g shape-rendering="auto"><rect x="99.5" y="662.8" width="9.4" height="77.3" fill="#000" stroke="none" stroke-width="1"/><rect x="123.4" y="662.8" width="9.4" height="75.0" fill="#000" stroke="none" stroke-width="1"/><rect x="147.3" y="662.8" width="9.4" height="163.2" fill="#000" stroke="none" stroke-width="1"/><rect x="171.2" y="662.8" width="9.4" height="51.2" fill="#000" stroke="none" stroke-width="1"/><rect x="195.1" y="612.7" width="9.4" height="50.1" fill="#000" stroke="none" stroke-width="1"/><rect x="219.0" y="613.8" width="9.4" height="49.0" fill="#000" stroke="none" stroke-width="1"/><rect x="242.9" y="662.8" width="9.4" height="105.4" fill="#000" stroke="none" stroke-width="1"/><rect x="266.8" y="662.8" width="9.4" height="70.1" fill="#000" stroke="none" stroke-width="1"/><rect x="290.7" y="662.8" width="9.4" height="23.4" fill="#000" stroke="none" stroke-width="1"/><rect x="314.6" y="627.7" width="9.4" height="35.1" fill="#000" stroke="none" stroke-width="1"/><rect x="338.5" y="626.6" width="9.4" height="36.2" fill="#000" stroke="none" stroke-width="1"/><rect x="362.5" y="623.0" width="9.4" height="39.8" fill="#000" stroke="none" stroke-width="1"/><rect x="386.4" y="662.8" width="9.4" height="40.8" fill="#000" stroke="none" stroke-width="1"/><rect x="410.3" y="662.8" width="9.4" height="99.0" fill="#000" stroke="none" stroke-width="1"/><rect x="434.2" y="662.8" width="9.4" height="9.8" fill="#000" stroke="none" stroke-width="1"/><rect x="458.1" y="662.8" width="9.4" height="104.8" fill="#000" stroke="none" stroke-width="1"/><rect x="482.0" y="662.8" width="9.4" height="104.8" fill="#000" stroke="none" stroke-width="1"/><rect x="505.9" y="662.8" width="9.4" height="113.2" fill="#000" stroke="none" stroke-width="1"/><rect x="529.8" y="662.8" width="9.4" height="109.7" fill="#000" stroke="none" stroke-width="1"/><rect x="553.7" y="662.8" width="9.4" height="110.6" fill="#000" stroke="none" stroke-width="1"/><rect x="577.6" y="662.8" width="9.4" height="28.6" fill="#000" stroke="none" stroke-width="1"/><rect x="601.5" y="662.8" width="9.4" height="48.3" fill="#000" stroke="none" stroke-width="1"/><rect x="96.5" y="662.8" width="9.4" height="74.3" fill="#00FFFF" stroke="#000" stroke-width="0.6"/><rect x="120.4" y="662.8" width="9.4" height="72.0" fill="#00FFFF" stroke="#000" stroke-width="0.6"/><rect x="144.3" y="662.8" width="9.4" height="160.2" fill="#00FFFF" stroke="#000" stroke-width="0.6"/><rect x="168.2" y="662.8" width="9.4" height="48.2" fill="#00FFFF" stroke="#000" stroke-width="0.6"/><rect x="192.1" y="609.7" width="9.4" height="53.1" fill="#00FFFF" stroke="#000" stroke-width="0.6"/><rect x="216.0" y="610.8" width="9.4" height="52.0" fill="#00FFFF" stroke="#000" stroke-width="0.6"/><rect x="239.9" y="662.8" width="9.4" height="102.4" fill="#00FFFF" stroke="#000" stroke-width="0.6"/><rect x="263.8" y="662.8" width="9.4" height="67.1" fill="#00FFFF" stroke="#000" stroke-width="0.6"/><rect x="287.7" y="662.8" width="9.4" height="20.4" fill="#00FFFF" stroke="#000" stroke-width="0.6"/><rect x="311.6" y="624.7" width="9.4" height="38.1" fill="#00FFFF" stroke="#000" stroke-width="0.6"/><rect x="335.5" y="623.6" width="9.4" height="39.2" fill="#00FFFF" stroke="#000" stroke-width="0.6"/><rect x="359.5" y="620.0" width="9.4" height="42.8" fill="#00FFFF" stroke="#000" stroke-width="0.6"/><rect x="383.4" y="662.8" width="9.4" height="37.8" fill="#00FFFF" stroke="#000" stroke-width="0.6"/><rect x="407.3" y="662.8" width="9.4" height="96.0" fill="#00FFFF" stroke="#000" stroke-width="0.6"/><rect x="431.2" y="662.8" width="9.4" height="6.8" fill="#00FFFF" stroke="#000" stroke-width="0.6"/><rect x="455.1" y="662.8" width="9.4" height="101.8" fill="#00FFFF" stroke="#000" stroke-width="0.6"/><rect x="479.0" y="662.8" width="9.4" height="101.8" fill="#00FFFF" stroke="#000" stroke-width="0.6"/><rect x="502.9" y="662.8" width="9.4" height="110.2" fill="#00FFFF" stroke="#000" stroke-width="0.6"/><rect x="526.8" y="662.8" width="9.4" height="106.7" fill="#00FFFF" stroke="#000" stroke-width="0.6"/><rect x="550.7" y="662.8" width="9.4" height="107.6" fill="#00FFFF" stroke="#000" stroke-width="0.6"/><rect x="574.6" y="662.8" width="9.4" height="25.6" fill="#00FFFF" stroke="#000" stroke-width="0.6"/><rect x="598.5" y="662.8" width="9.4" height="45.3" fill="#00FFFF" stroke="#000" stroke-width="0.6"/></g><line x1="89.5" y1="662.8" x2="615.5" y2="662.8" stroke="#000" stroke-width="1"/><line x1="113.4" y1="656.8" x2="113.4" y2="662.8" stroke="#000" stroke-width="1"/><line x1="137.3" y1="656.8" x2="137.3" y2="662.8" stroke="#000" stroke-width="1"/><line x1="161.2" y1="656.8" x2="161.2" y2="662.8" stroke="#000" stroke-width="1"/><line x1="185.1" y1="656.8" x2="185.1" y2="662.8" stroke="#000" stroke-width="1"/><line x1="209.0" y1="656.8" x2="209.0" y2="662.8" stroke="#000" stroke-width="1"/><line x1="233.0" y1="656.8" x2="233.0" y2="662.8" stroke="#000" stroke-width="1"/><line x1="256.9" y1="656.8" x2="256.9" y2="662.8" stroke="#000" stroke-width="1"/><line x1="280.8" y1="656.8" x2="280.8" y2="662.8" stroke="#000" stroke-width="1"/><line x1="304.7" y1="656.8" x2="304.7" y2="662.8" stroke="#000" stroke-width="1"/><line x1="328.6" y1="656.8" x2="328.6" y2="662.8" stroke="#000" stroke-width="1"/><line x1="352.5" y1="656.8" x2="352.5" y2="662.8" stroke="#000" stroke-width="1"/><line x1="376.4" y1="656.8" x2="376.4" y2="662.8" stroke="#000" stroke-width="1"/><line x1="400.3" y1="656.8" x2="400.3" y2="662.8" stroke="#000" stroke-width="1"/><line x1="424.2" y1="656.8" x2="424.2" y2="662.8" stroke="#000" stroke-width="1"/><line x1="448.1" y1="656.8" x2="448.1" y2="662.8" stroke="#000" stroke-width="1"/><line x1="472.0" y1="656.8" x2="472.0" y2="662.8" stroke="#000" stroke-width="1"/><line x1="496.0" y1="656.8" x2="496.0" y2="662.8" stroke="#000" stroke-width="1"/><line x1="519.9" y1="656.8" x2="519.9" y2="662.8" stroke="#000" stroke-width="1"/><line x1="543.8" y1="656.8" x2="543.8" y2="662.8" stroke="#000" stroke-width="1"/><line x1="567.7" y1="656.8" x2="567.7" y2="662.8" stroke="#000" stroke-width="1"/><line x1="591.6" y1="656.8" x2="591.6" y2="662.8" stroke="#000" stroke-width="1"/><g shape-rendering="auto"><text x="0" y="0" font-family='"Liberation Sans", sans-serif' font-size="14.5" fill="#000" text-anchor="end" transform="translate(118.5,683.0) rotate(-45)">9/23</text><text x="0" y="0" font-family='"Liberation Sans", sans-serif' font-size="14.5" fill="#000" text-anchor="end" transform="translate(166.3,683.0) rotate(-45)">9/25</text><text x="0" y="0" font-family='"Liberation Sans", sans-serif' font-size="14.5" fill="#000" text-anchor="end" transform="translate(214.1,683.0) rotate(-45)">9/29</text><text x="0" y="0" font-family='"Liberation Sans", sans-serif' font-size="14.5" fill="#000" text-anchor="end" transform="translate(261.9,683.0) rotate(-45)">10/5</text><text x="0" y="0" font-family='"Liberation Sans", sans-serif' font-size="14.5" fill="#000" text-anchor="end" transform="translate(309.7,683.0) rotate(-45)">10/7</text><text x="0" y="0" font-family='"Liberation Sans", sans-serif' font-size="14.5" fill="#000" text-anchor="end" transform="translate(357.5,683.0) rotate(-45)">10/12</text><text x="0" y="0" font-family='"Liberation Sans", sans-serif' font-size="14.5" fill="#000" text-anchor="end" transform="translate(405.4,683.0) rotate(-45)">10/14</text><text x="0" y="0" font-family='"Liberation Sans", sans-serif' font-size="14.5" fill="#000" text-anchor="end" transform="translate(453.2,683.0) rotate(-45)">10/16</text><text x="0" y="0" font-family='"Liberation Sans", sans-serif' font-size="14.5" fill="#000" text-anchor="end" transform="translate(501.0,683.0) rotate(-45)">10/20</text><text x="0" y="0" font-family='"Liberation Sans", sans-serif' font-size="14.5" fill="#000" text-anchor="end" transform="translate(548.8,683.0) rotate(-45)">10/22</text><text x="0" y="0" font-family='"Liberation Sans", sans-serif' font-size="14.5" fill="#000" text-anchor="end" transform="translate(596.6,683.0) rotate(-45)">10/26</text><polyline points="101.5,627.6 125.4,678.3 149.3,760.8 173.2,779.0 197.1,720.9 221.0,720.9 244.9,726.7 268.8,716.5 292.7,694.2 316.6,682.0 340.5,658.6 364.5,665.6 388.4,685.0 412.3,676.3 436.2,703.0 460.1,707.3 484.0,670.5 507.9,676.9 531.8,668.2 555.7,653.7 579.6,665.3 603.5,664.4" fill="none" stroke="#FFFF00" stroke-width="3.2" stroke-linejoin="round"/><circle cx="101.5" cy="627.6" r="4.6" fill="#FFFFFF" stroke="#FFCC00" stroke-width="1.6"/><circle cx="125.4" cy="678.3" r="4.6" fill="#FFFFFF" stroke="#FFCC00" stroke-width="1.6"/><circle cx="149.3" cy="760.8" r="4.6" fill="#FFFFFF" stroke="#FFCC00" stroke-width="1.6"/><circle cx="173.2" cy="779.0" r="4.6" fill="#FFFFFF" stroke="#FFCC00" stroke-width="1.6"/><circle cx="197.1" cy="720.9" r="4.6" fill="#FFFFFF" stroke="#FFCC00" stroke-width="1.6"/><circle cx="221.0" cy="720.9" r="4.6" fill="#FFFFFF" stroke="#FFCC00" stroke-width="1.6"/><circle cx="244.9" cy="726.7" r="4.6" fill="#FFFFFF" stroke="#FFCC00" stroke-width="1.6"/><circle cx="268.8" cy="716.5" r="4.6" fill="#FFFFFF" stroke="#FFCC00" stroke-width="1.6"/><circle cx="292.7" cy="694.2" r="4.6" fill="#FFFFFF" stroke="#FFCC00" stroke-width="1.6"/><circle cx="316.6" cy="682.0" r="4.6" fill="#FFFFFF" stroke="#FFCC00" stroke-width="1.6"/><circle cx="340.5" cy="658.6" r="4.6" fill="#FFFFFF" stroke="#FFCC00" stroke-width="1.6"/><circle cx="364.5" cy="665.6" r="4.6" fill="#FFFFFF" stroke="#FFCC00" stroke-width="1.6"/><circle cx="388.4" cy="685.0" r="4.6" fill="#FFFFFF" stroke="#FFCC00" stroke-width="1.6"/><circle cx="412.3" cy="676.3" r="4.6" fill="#FFFFFF" stroke="#FFCC00" stroke-width="1.6"/><circle cx="436.2" cy="703.0" r="4.6" fill="#FFFFFF" stroke="#FFCC00" stroke-width="1.6"/><circle cx="460.1" cy="707.3" r="4.6" fill="#FFFFFF" stroke="#FFCC00" stroke-width="1.6"/><circle cx="484.0" cy="670.5" r="4.6" fill="#FFFFFF" stroke="#FFCC00" stroke-width="1.6"/><circle cx="507.9" cy="676.9" r="4.6" fill="#FFFFFF" stroke="#FFCC00" stroke-width="1.6"/><circle cx="531.8" cy="668.2" r="4.6" fill="#FFFFFF" stroke="#FFCC00" stroke-width="1.6"/><circle cx="555.7" cy="653.7" r="4.6" fill="#FFFFFF" stroke="#FFCC00" stroke-width="1.6"/><circle cx="579.6" cy="665.3" r="4.6" fill="#FFFFFF" stroke="#FFCC00" stroke-width="1.6"/><circle cx="603.5" cy="664.4" r="4.6" fill="#FFFFFF" stroke="#FFCC00" stroke-width="1.6"/></g><rect x="303.0" y="564.0" width="200.0" height="32.0" fill="#000" stroke="none" stroke-width="1"/><rect x="300.5" y="561.5" width="200.0" height="32.0" fill="#FFFF99" stroke="#000" stroke-width="1"/><text x="497" y="586" font-family='"Liberation Sans", sans-serif' font-size="17" fill="#0000FF" text-anchor="end">碼走勢</text><rect x="116.5" y="561.5" width="343.0" height="44.0" fill="#969696" stroke="#000" stroke-width="1"/><rect x="146.0" y="578.5" width="31.0" height="11.0" fill="#00FFFF" stroke="#000" stroke-width="1"/><text x="183" y="592" font-family='"Liberation Sans", sans-serif' font-size="17" fill="#F0F0F0" textLength="72" lengthAdjust="spacingAndGlyphs">類股籌碼</text><line x1="312.0" y1="583.5" x2="347.0" y2="583.5" stroke="#FFFF00" stroke-width="3"/><circle cx="329" cy="583.5" r="5" fill="#FFFFFF" stroke="#FFCC00" stroke-width="1.5" shape-rendering="auto"/><text x="351" y="592" font-family='"Liberation Sans", sans-serif' font-size="17" fill="#F0F0F0" textLength="80" lengthAdjust="spacingAndGlyphs">傳產-營建</text><rect x="721.5" y="634.5" width="570.0" height="243.5" fill="#C0C0C0" stroke="none" stroke-width="1"/><line x1="752.5" y1="643.5" x2="752.5" y2="878.0" stroke="#99CCFF" stroke-width="1" stroke-dasharray="6 4"/><line x1="784.5" y1="643.5" x2="784.5" y2="878.0" stroke="#99CCFF" stroke-width="1" stroke-dasharray="6 4"/><line x1="816.5" y1="643.5" x2="816.5" y2="878.0" stroke="#99CCFF" stroke-width="1" stroke-dasharray="6 4"/><line x1="847.5" y1="643.5" x2="847.5" y2="878.0" stroke="#99CCFF" stroke-width="1" stroke-dasharray="6 4"/><line x1="879.5" y1="643.5" x2="879.5" y2="878.0" stroke="#99CCFF" stroke-width="1" stroke-dasharray="6 4"/><line x1="911.5" y1="643.5" x2="911.5" y2="878.0" stroke="#99CCFF" stroke-width="1" stroke-dasharray="6 4"/><line x1="942.5" y1="643.5" x2="942.5" y2="878.0" stroke="#99CCFF" stroke-width="1" stroke-dasharray="6 4"/><line x1="974.5" y1="643.5" x2="974.5" y2="878.0" stroke="#99CCFF" stroke-width="1" stroke-dasharray="6 4"/><line x1="1006.5" y1="643.5" x2="1006.5" y2="878.0" stroke="#99CCFF" stroke-width="1" stroke-dasharray="6 4"/><line x1="1037.5" y1="643.5" x2="1037.5" y2="878.0" stroke="#99CCFF" stroke-width="1" stroke-dasharray="6 4"/><line x1="1069.5" y1="643.5" x2="1069.5" y2="878.0" stroke="#99CCFF" stroke-width="1" stroke-dasharray="6 4"/><line x1="1101.5" y1="643.5" x2="1101.5" y2="878.0" stroke="#99CCFF" stroke-width="1" stroke-dasharray="6 4"/><line x1="1132.5" y1="643.5" x2="1132.5" y2="878.0" stroke="#99CCFF" stroke-width="1" stroke-dasharray="6 4"/><line x1="1164.5" y1="643.5" x2="1164.5" y2="878.0" stroke="#99CCFF" stroke-width="1" stroke-dasharray="6 4"/><line x1="1196.5" y1="643.5" x2="1196.5" y2="878.0" stroke="#99CCFF" stroke-width="1" stroke-dasharray="6 4"/><line x1="1227.5" y1="643.5" x2="1227.5" y2="878.0" stroke="#99CCFF" stroke-width="1" stroke-dasharray="6 4"/><line x1="1259.5" y1="643.5" x2="1259.5" y2="878.0" stroke="#99CCFF" stroke-width="1" stroke-dasharray="6 4"/><line x1="721.5" y1="669.3" x2="1291.5" y2="669.3" stroke="#000" stroke-width="1" stroke-dasharray="6 3.6"/><line x1="721.5" y1="704.1" x2="1291.5" y2="704.1" stroke="#000" stroke-width="1" stroke-dasharray="6 3.6"/><line x1="721.5" y1="738.9" x2="1291.5" y2="738.9" stroke="#000" stroke-width="1" stroke-dasharray="6 3.6"/><line x1="721.5" y1="773.6" x2="1291.5" y2="773.6" stroke="#000" stroke-width="1" stroke-dasharray="6 3.6"/><line x1="721.5" y1="808.4" x2="1291.5" y2="808.4" stroke="#000" stroke-width="1" stroke-dasharray="6 3.6"/><line x1="721.5" y1="843.2" x2="1291.5" y2="843.2" stroke="#000" stroke-width="1" stroke-dasharray="6 3.6"/><line x1="721.5" y1="634.5" x2="1291.5" y2="634.5" stroke="#000" stroke-width="1"/><line x1="721.5" y1="878.0" x2="1291.5" y2="878.0" stroke="#808080" stroke-width="1"/><line x1="1291.5" y1="634.5" x2="1291.5" y2="878.0" stroke="#000" stroke-width="1"/><line x1="721.5" y1="634.5" x2="721.5" y2="878.0" stroke="#FF9900" stroke-width="1"/><line x1="752.5" y1="634.5" x2="752.5" y2="640.5" stroke="#000" stroke-width="1"/><line x1="784.5" y1="634.5" x2="784.5" y2="640.5" stroke="#000" stroke-width="1"/><line x1="816.5" y1="634.5" x2="816.5" y2="640.5" stroke="#000" stroke-width="1"/><line x1="847.5" y1="634.5" x2="847.5" y2="640.5" stroke="#000" stroke-width="1"/><line x1="879.5" y1="634.5" x2="879.5" y2="640.5" stroke="#000" stroke-width="1"/><line x1="911.5" y1="634.5" x2="911.5" y2="640.5" stroke="#000" stroke-width="1"/><line x1="942.5" y1="634.5" x2="942.5" y2="640.5" stroke="#000" stroke-width="1"/><line x1="974.5" y1="634.5" x2="974.5" y2="640.5" stroke="#000" stroke-width="1"/><line x1="1006.5" y1="634.5" x2="1006.5" y2="640.5" stroke="#000" stroke-width="1"/><line x1="1037.5" y1="634.5" x2="1037.5" y2="640.5" stroke="#000" stroke-width="1"/><line x1="1069.5" y1="634.5" x2="1069.5" y2="640.5" stroke="#000" stroke-width="1"/><line x1="1101.5" y1="634.5" x2="1101.5" y2="640.5" stroke="#000" stroke-width="1"/><line x1="1132.5" y1="634.5" x2="1132.5" y2="640.5" stroke="#000" stroke-width="1"/><line x1="1164.5" y1="634.5" x2="1164.5" y2="640.5" stroke="#000" stroke-width="1"/><line x1="1196.5" y1="634.5" x2="1196.5" y2="640.5" stroke="#000" stroke-width="1"/><line x1="1227.5" y1="634.5" x2="1227.5" y2="640.5" stroke="#000" stroke-width="1"/><line x1="1259.5" y1="634.5" x2="1259.5" y2="640.5" stroke="#000" stroke-width="1"/><line x1="721.5" y1="634.5" x2="727.5" y2="634.5" stroke="#FF9900" stroke-width="1"/><line x1="721.5" y1="661.6" x2="727.5" y2="661.6" stroke="#FF9900" stroke-width="1"/><line x1="721.5" y1="688.6" x2="727.5" y2="688.6" stroke="#FF9900" stroke-width="1"/><line x1="721.5" y1="715.7" x2="727.5" y2="715.7" stroke="#FF9900" stroke-width="1"/><line x1="721.5" y1="742.7" x2="727.5" y2="742.7" stroke="#FF9900" stroke-width="1"/><line x1="721.5" y1="769.8" x2="727.5" y2="769.8" stroke="#FF9900" stroke-width="1"/><line x1="721.5" y1="796.8" x2="727.5" y2="796.8" stroke="#FF9900" stroke-width="1"/><line x1="721.5" y1="823.9" x2="727.5" y2="823.9" stroke="#FF9900" stroke-width="1"/><line x1="721.5" y1="850.9" x2="727.5" y2="850.9" stroke="#FF9900" stroke-width="1"/><line x1="721.5" y1="878.0" x2="727.5" y2="878.0" stroke="#FF9900" stroke-width="1"/><text x="704.0" y="641.0" font-family='"Liberation Sans", sans-serif' font-size="17" fill="#FF6600" text-anchor="end" font-weight="bold" textLength="16" lengthAdjust="spacingAndGlyphs">45</text><text x="704.0" y="668.1" font-family='"Liberation Sans", sans-serif' font-size="17" fill="#FF6600" text-anchor="end" font-weight="bold" textLength="16" lengthAdjust="spacingAndGlyphs">40</text><text x="704.0" y="695.1" font-family='"Liberation Sans", sans-serif' font-size="17" fill="#FF6600" text-anchor="end" font-weight="bold" textLength="16" lengthAdjust="spacingAndGlyphs">35</text><text x="704.0" y="722.2" font-family='"Liberation Sans", sans-serif' font-size="17" fill="#FF6600" text-anchor="end" font-weight="bold" textLength="16" lengthAdjust="spacingAndGlyphs">30</text><text x="704.0" y="749.2" font-family='"Liberation Sans", sans-serif' font-size="17" fill="#FF6600" text-anchor="end" font-weight="bold" textLength="16" lengthAdjust="spacingAndGlyphs">25</text><text x="704.0" y="776.3" font-family='"Liberation Sans", sans-serif' font-size="17" fill="#FF6600" text-anchor="end" font-weight="bold" textLength="16" lengthAdjust="spacingAndGlyphs">20</text><text x="704.0" y="803.3" font-family='"Liberation Sans", sans-serif' font-size="17" fill="#FF6600" text-anchor="end" font-weight="bold" textLength="16" lengthAdjust="spacingAndGlyphs">15</text><text x="704.0" y="830.4" font-family='"Liberation Sans", sans-serif' font-size="17" fill="#FF6600" text-anchor="end" font-weight="bold" textLength="16" lengthAdjust="spacingAndGlyphs">10</text><text x="704.0" y="857.4" font-family='"Liberation Sans", sans-serif' font-size="17" fill="#FF6600" text-anchor="end" font-weight="bold" textLength="8" lengthAdjust="spacingAndGlyphs">5</text><text x="704.0" y="884.5" font-family='"Liberation Sans", sans-serif' font-size="17" fill="#FF6600" text-anchor="end" font-weight="bold" textLength="8" lengthAdjust="spacingAndGlyphs">0</text><text x="1303.0" y="641.0" font-family='"Liberation Sans", sans-serif' font-size="17" fill="#0000FF" text-anchor="start" font-weight="normal" textLength="19" lengthAdjust="spacingAndGlyphs">81.</text><text x="1303.0" y="675.8" font-family='"Liberation Sans", sans-serif' font-size="17" fill="#0000FF" text-anchor="start" font-weight="normal" textLength="19" lengthAdjust="spacingAndGlyphs">80.</text><text x="1303.0" y="710.6" font-family='"Liberation Sans", sans-serif' font-size="17" fill="#0000FF" text-anchor="start" font-weight="normal" textLength="19" lengthAdjust="spacingAndGlyphs">79.</text><text x="1303.0" y="745.4" font-family='"Liberation Sans", sans-serif' font-size="17" fill="#0000FF" text-anchor="start" font-weight="normal" textLength="19" lengthAdjust="spacingAndGlyphs">78.</text><text x="1303.0" y="780.1" font-family='"Liberation Sans", sans-serif' font-size="17" fill="#0000FF" text-anchor="start" font-weight="normal" textLength="19" lengthAdjust="spacingAndGlyphs">77.</text><text x="1303.0" y="814.9" font-family='"Liberation Sans", sans-serif' font-size="17" fill="#0000FF" text-anchor="start" font-weight="normal" textLength="19" lengthAdjust="spacingAndGlyphs">76.</text><text x="1303.0" y="849.7" font-family='"Liberation Sans", sans-serif' font-size="17" fill="#0000FF" text-anchor="start" font-weight="normal" textLength="19" lengthAdjust="spacingAndGlyphs">75.</text><text x="1303.0" y="884.5" font-family='"Liberation Sans", sans-serif' font-size="17" fill="#0000FF" text-anchor="start" font-weight="normal" textLength="19" lengthAdjust="spacingAndGlyphs">74.</text><g shape-rendering="auto"><text x="0" y="0" font-family='"Liberation Sans", sans-serif' font-size="16.5" fill="#000" text-anchor="end" textLength="63" lengthAdjust="spacingAndGlyphs" transform="translate(741.8,565.5) rotate(-90)">19年05月</text><text x="0" y="0" font-family='"Liberation Sans", sans-serif' font-size="16.5" fill="#000" text-anchor="end" textLength="63" lengthAdjust="spacingAndGlyphs" transform="translate(773.5,565.5) rotate(-90)">19年06月</text><text x="0" y="0" font-family='"Liberation Sans", sans-serif' font-size="16.5" fill="#000" text-anchor="end" textLength="63" lengthAdjust="spacingAndGlyphs" transform="translate(805.2,565.5) rotate(-90)">19年07月</text><text x="0" y="0" font-family='"Liberation Sans", sans-serif' font-size="16.5" fill="#000" text-anchor="end" textLength="63" lengthAdjust="spacingAndGlyphs" transform="translate(836.8,565.5) rotate(-90)">19年08月</text><text x="0" y="0" font-family='"Liberation Sans", sans-serif' font-size="16.5" fill="#000" text-anchor="end" textLength="63" lengthAdjust="spacingAndGlyphs" transform="translate(868.5,565.5) rotate(-90)">19年09月</text><text x="0" y="0" font-family='"Liberation Sans", sans-serif' font-size="16.5" fill="#000" text-anchor="end" textLength="63" lengthAdjust="spacingAndGlyphs" transform="translate(900.2,565.5) rotate(-90)">19年10月</text><text x="0" y="0" font-family='"Liberation Sans", sans-serif' font-size="16.5" fill="#000" text-anchor="end" textLength="63" lengthAdjust="spacingAndGlyphs" transform="translate(931.8,565.5) rotate(-90)">19年11月</text><text x="0" y="0" font-family='"Liberation Sans", sans-serif' font-size="16.5" fill="#000" text-anchor="end" textLength="63" lengthAdjust="spacingAndGlyphs" transform="translate(963.5,565.5) rotate(-90)">19年12月</text><text x="0" y="0" font-family='"Liberation Sans", sans-serif' font-size="16.5" fill="#000" text-anchor="end" textLength="63" lengthAdjust="spacingAndGlyphs" transform="translate(995.2,565.5) rotate(-90)">20年01月</text><text x="0" y="0" font-family='"Liberation Sans", sans-serif' font-size="16.5" fill="#000" text-anchor="end" textLength="63" lengthAdjust="spacingAndGlyphs" transform="translate(1026.8,565.5) rotate(-90)">20年02月</text><text x="0" y="0" font-family='"Liberation Sans", sans-serif' font-size="16.5" fill="#000" text-anchor="end" textLength="63" lengthAdjust="spacingAndGlyphs" transform="translate(1058.5,565.5) rotate(-90)">20年03月</text><text x="0" y="0" font-family='"Liberation Sans", sans-serif' font-size="16.5" fill="#000" text-anchor="end" textLength="63" lengthAdjust="spacingAndGlyphs" transform="translate(1090.2,565.5) rotate(-90)">20年04月</text><text x="0" y="0" font-family='"Liberation Sans", sans-serif' font-size="16.5" fill="#000" text-anchor="end" textLength="63" lengthAdjust="spacingAndGlyphs" transform="translate(1121.8,565.5) rotate(-90)">20年05月</text><text x="0" y="0" font-family='"Liberation Sans", sans-serif' font-size="16.5" fill="#000" text-anchor="end" textLength="63" lengthAdjust="spacingAndGlyphs" transform="translate(1153.5,565.5) rotate(-90)">20年06月</text><text x="0" y="0" font-family='"Liberation Sans", sans-serif' font-size="16.5" fill="#000" text-anchor="end" textLength="63" lengthAdjust="spacingAndGlyphs" transform="translate(1185.2,565.5) rotate(-90)">20年07月</text><text x="0" y="0" font-family='"Liberation Sans", sans-serif' font-size="16.5" fill="#000" text-anchor="end" textLength="63" lengthAdjust="spacingAndGlyphs" transform="translate(1216.8,565.5) rotate(-90)">20年08月</text><text x="0" y="0" font-family='"Liberation Sans", sans-serif' font-size="16.5" fill="#000" text-anchor="end" textLength="63" lengthAdjust="spacingAndGlyphs" transform="translate(1248.5,565.5) rotate(-90)">20年09月</text><text x="0" y="0" font-family='"Liberation Sans", sans-serif' font-size="16.5" fill="#000" text-anchor="end" textLength="63" lengthAdjust="spacingAndGlyphs" transform="translate(1280.2,565.5) rotate(-90)">20年10月</text><polyline points="736.8,691.5 768.5,696.6 800.2,700.5 831.8,722.4 863.5,721.5 895.2,717.0 926.8,708.6 958.5,699.0 990.2,698.8 1021.8,698.6 1053.5,694.5 1085.2,697.2 1116.8,689.7 1148.5,877.6 1180.2,666.3 1211.8,877.6 1243.5,666.3 1275.2,669.8" fill="none" stroke="#FFFF00" stroke-width="4" stroke-linejoin="round"/><circle cx="738.3" cy="693.0" r="5" fill="#000"/><circle cx="736.8" cy="691.5" r="5" fill="#808080" stroke="#E0E0E0" stroke-width="1"/><circle cx="770.0" cy="698.1" r="5" fill="#000"/><circle cx="768.5" cy="696.6" r="5" fill="#808080" stroke="#E0E0E0" stroke-width="1"/><circle cx="801.7" cy="702.0" r="5" fill="#000"/><circle cx="800.2" cy="700.5" r="5" fill="#808080" stroke="#E0E0E0" stroke-width="1"/><circle cx="833.3" cy="723.9" r="5" fill="#000"/><circle cx="831.8" cy="722.4" r="5" fill="#808080" stroke="#E0E0E0" stroke-width="1"/><circle cx="865.0" cy="723.0" r="5" fill="#000"/><circle cx="863.5" cy="721.5" r="5" fill="#808080" stroke="#E0E0E0" stroke-width="1"/><circle cx="896.7" cy="718.5" r="5" fill="#000"/><circle cx="895.2" cy="717.0" r="5" fill="#808080" stroke="#E0E0E0" stroke-width="1"/><circle cx="928.3" cy="710.1" r="5" fill="#000"/><circle cx="926.8" cy="708.6" r="5" fill="#808080" stroke="#E0E0E0" stroke-width="1"/><circle cx="960.0" cy="700.5" r="5" fill="#000"/><circle cx="958.5" cy="699.0" r="5" fill="#808080" stroke="#E0E0E0" stroke-width="1"/><circle cx="991.7" cy="700.3" r="5" fill="#000"/><circle cx="990.2" cy="698.8" r="5" fill="#808080" stroke="#E0E0E0" stroke-width="1"/><circle cx="1023.3" cy="700.1" r="5" fill="#000"/><circle cx="1021.8" cy="698.6" r="5" fill="#808080" stroke="#E0E0E0" stroke-width="1"/><circle cx="1055.0" cy="696.0" r="5" fill="#000"/><circle cx="1053.5" cy="694.5" r="5" fill="#808080" stroke="#E0E0E0" stroke-width="1"/><circle cx="1086.7" cy="698.7" r="5" fill="#000"/><circle cx="1085.2" cy="697.2" r="5" fill="#808080" stroke="#E0E0E0" stroke-width="1"/><circle cx="1118.3" cy="691.2" r="5" fill="#000"/><circle cx="1116.8" cy="689.7" r="5" fill="#808080" stroke="#E0E0E0" stroke-width="1"/><circle cx="1150.0" cy="879.1" r="5" fill="#000"/><circle cx="1148.5" cy="877.6" r="5" fill="#808080" stroke="#E0E0E0" stroke-width="1"/><circle cx="1181.7" cy="667.8" r="5" fill="#000"/><circle cx="1180.2" cy="666.3" r="5" fill="#808080" stroke="#E0E0E0" stroke-width="1"/><circle cx="1213.3" cy="879.1" r="5" fill="#000"/><circle cx="1211.8" cy="877.6" r="5" fill="#808080" stroke="#E0E0E0" stroke-width="1"/><circle cx="1245.0" cy="667.8" r="5" fill="#000"/><circle cx="1243.5" cy="666.3" r="5" fill="#808080" stroke="#E0E0E0" stroke-width="1"/><circle cx="1276.7" cy="671.3" r="5" fill="#000"/><circle cx="1275.2" cy="669.8" r="5" fill="#808080" stroke="#E0E0E0" stroke-width="1"/><polyline points="736.8,768.6 768.5,767.0 800.2,772.5 831.8,768.0 863.5,788.0 895.2,779.3 926.8,770.4 958.5,759.0 990.2,748.2 1021.8,740.3 1053.5,730.0 1085.2,731.6 1116.8,725.5 1148.5,720.9 1180.2,704.0 1211.8,698.6 1243.5,651.0" fill="none" stroke="#000080" stroke-width="3" stroke-linejoin="round"/><line x1="1243.5" y1="651.0" x2="1275.2" y2="649.4" stroke="#0000FF" stroke-width="3"/><polygon points="736.8,762.6 742.8,768.6 736.8,774.6 730.8,768.6" fill="#000080"/><polygon points="768.5,761.0 774.5,767.0 768.5,773.0 762.5,767.0" fill="#000080"/><polygon points="800.2,766.5 806.2,772.5 800.2,778.5 794.2,772.5" fill="#000080"/><polygon points="831.8,762.0 837.8,768.0 831.8,774.0 825.8,768.0" fill="#000080"/><polygon points="863.5,782.0 869.5,788.0 863.5,794.0 857.5,788.0" fill="#000080"/><polygon points="895.2,773.3 901.2,779.3 895.2,785.3 889.2,779.3" fill="#000080"/><polygon points="926.8,764.4 932.8,770.4 926.8,776.4 920.8,770.4" fill="#000080"/><polygon points="958.5,753.0 964.5,759.0 958.5,765.0 952.5,759.0" fill="#000080"/><polygon points="990.2,742.2 996.2,748.2 990.2,754.2 984.2,748.2" fill="#000080"/><polygon points="1021.8,734.3 1027.8,740.3 1021.8,746.3 1015.8,740.3" fill="#000080"/><polygon points="1053.5,724.0 1059.5,730.0 1053.5,736.0 1047.5,730.0" fill="#000080"/><circle cx="1086.4" cy="732.8" r="6" fill="#000" /><circle cx="1085.2" cy="731.6" r="6" fill="#fff" stroke="#000080" stroke-width="1"/><polygon points="1116.8,719.5 1122.8,725.5 1116.8,731.5 1110.8,725.5" fill="#000080"/><polygon points="1148.5,714.9 1154.5,720.9 1148.5,726.9 1142.5,720.9" fill="#000080"/><polygon points="1180.2,698.0 1186.2,704.0 1180.2,710.0 1174.2,704.0" fill="#000080"/><circle cx="1213.0" cy="699.8" r="6.5" fill="#000" /><circle cx="1211.8" cy="698.6" r="6.5" fill="#fff" stroke="#000080" stroke-width="1"/><rect x="1238.5" y="645.0" width="10.0" height="10.0" fill="#00FFFF" stroke="#000080" stroke-width="1"/><polygon points="1277.2,643.4 1285.2,651.4 1277.2,659.4 1269.2,651.4" fill="#000"/><polygon points="1275.2,641.4 1283.2,649.4 1275.2,657.4 1267.2,649.4" fill="#CCFFFF" stroke="#00CCFF" stroke-width="1"/></g><rect x="722.5" y="827.5" width="206.0" height="49.0" fill="#CCCCFF" stroke="#808080" stroke-width="1"/><line x1="731.0" y1="842.0" x2="760.0" y2="842.0" stroke="#000080" stroke-width="3"/><polygon points="746,836 752,842 746,848 740,842" fill="#000080"/><text x="767" y="849" font-family='"Liberation Sans", sans-serif' font-size="16" fill="#000" textLength="150" lengthAdjust="spacingAndGlyphs">大戶(扣除外資法人)</text><line x1="731.0" y1="864.0" x2="760.0" y2="864.0" stroke="#FFFF00" stroke-width="3"/><circle cx="746" cy="864" r="4.5" fill="#808080" stroke="#fff" stroke-width="1" shape-rendering="auto"/><text x="767" y="871" font-family='"Liberation Sans", sans-serif' font-size="16" fill="#000" textLength="86" lengthAdjust="spacingAndGlyphs">月收盤股價</text></svg><div style="position:absolute;left:33px;top:910px;font:12.5px Liberation Sans,sans-serif;color:#000;white-space:nowrap;letter-spacing:-0.55px">*本著作權係屬「投資教練網站」所有，僅供訂戶非商業目的之自用。禁止以紙張或電子媒介、其他任何形式翻印、複製、傳遞、引用部份或全部內容。資料來源或推導之數字雖已經過仔細求證，但不保證毫無錯誤。</div>
</body></html>
